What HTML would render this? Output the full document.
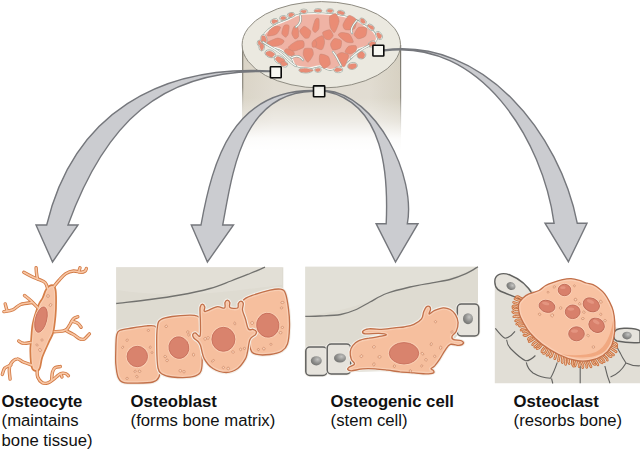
<!DOCTYPE html>
<html><head><meta charset="utf-8"><style>
html,body{margin:0;padding:0;background:#fff;width:640px;height:450px;overflow:hidden}
svg{display:block}
</style></head><body>
<svg width="640" height="450" viewBox="0 0 640 450">
<defs>
<linearGradient id="cylg" x1="0" y1="0" x2="0" y2="1">
<stop offset="0" stop-color="#d8d1c1"/>
<stop offset="0.45" stop-color="#dbd5c8"/>
<stop offset="0.75" stop-color="#efebe4"/>
<stop offset="1" stop-color="#ffffff"/>
</linearGradient>
<linearGradient id="cyledge" x1="0" y1="0" x2="0" y2="1">
<stop offset="0" stop-color="#77746b"/>
<stop offset="0.55" stop-color="#8f8c82"/>
<stop offset="1" stop-color="#ffffff" stop-opacity="0"/>
</linearGradient>
<radialGradient id="nucg" cx="0.62" cy="0.35" r="0.75"><stop offset="0" stop-color="#c4c4c2"/><stop offset="0.55" stop-color="#8e8e8c"/><stop offset="1" stop-color="#6c6c6a"/></radialGradient>
</defs>
<linearGradient id="cylh" x1="0" y1="0" x2="1" y2="0"><stop offset="0" stop-color="#d9d3c5"/><stop offset="0.2" stop-color="#e0dbd0"/><stop offset="0.8" stop-color="#e0dbd0"/><stop offset="1" stop-color="#d6d0c1"/></linearGradient>
<linearGradient id="fade" x1="0" y1="0" x2="0" y2="1"><stop offset="0" stop-color="#fff" stop-opacity="0"/><stop offset="0.5" stop-color="#fff" stop-opacity="0.04"/><stop offset="0.72" stop-color="#fff" stop-opacity="0.45"/><stop offset="0.88" stop-color="#fff" stop-opacity="0.92"/><stop offset="1" stop-color="#fff" stop-opacity="1"/></linearGradient>
<rect x="242" y="45" width="159" height="105" fill="url(#cylh)"/>
<rect x="240" y="45" width="163" height="106" fill="url(#fade)"/>
<rect x="242.1" y="45" width="1.2" height="77" fill="url(#cyledge)"/>
<rect x="400" y="45" width="1.2" height="95" fill="url(#cyledge)"/>
<ellipse cx="321.3" cy="44.8" rx="79.2" ry="43.2" fill="#ebe9e0" stroke="#8f8c82" stroke-width="1"/>
<path d="M263.1,37.5 C263.1,34.8 266.8,31.6 269.2,29.4 C271.6,27.2 274.2,25.8 277.3,24.3 C280.4,22.8 283.8,21.8 287.5,20.2 C291.2,18.6 294.9,15.7 299.7,14.6 C304.4,13.5 310.6,13.6 316.0,13.6 C321.4,13.6 327.5,14.1 332.2,14.6 C336.9,15.1 340.3,15.7 344.4,16.7 C348.5,17.7 353.2,19.2 356.6,20.7 C360.0,22.2 362.0,24.0 364.7,25.8 C367.4,27.6 370.9,29.1 372.8,31.4 C374.8,33.7 377.1,37.1 376.4,39.5 C375.7,41.9 371.9,44.0 368.8,45.6 C365.7,47.2 361.0,47.0 358.0,49.0 C355.0,51.0 353.8,55.0 351.0,57.8 C348.2,60.5 344.5,63.5 341.0,65.5 C337.5,67.5 333.7,69.4 330.2,69.5 C326.7,69.6 323.4,66.2 320.0,65.9 C316.6,65.6 313.8,67.6 309.8,67.5 C305.8,67.4 299.0,67.1 296.0,65.5 C293.0,63.9 294.0,60.4 291.6,57.8 C289.2,55.2 285.1,51.7 281.4,49.7 C277.7,47.7 272.2,47.6 269.2,45.6 C266.1,43.6 263.1,40.2 263.1,37.5Z" fill="none" stroke="#8d9d95" stroke-width="2.4"/>
<path d="M263.1,37.5 C263.1,34.8 266.8,31.6 269.2,29.4 C271.6,27.2 274.2,25.8 277.3,24.3 C280.4,22.8 283.8,21.8 287.5,20.2 C291.2,18.6 294.9,15.7 299.7,14.6 C304.4,13.5 310.6,13.6 316.0,13.6 C321.4,13.6 327.5,14.1 332.2,14.6 C336.9,15.1 340.3,15.7 344.4,16.7 C348.5,17.7 353.2,19.2 356.6,20.7 C360.0,22.2 362.0,24.0 364.7,25.8 C367.4,27.6 370.9,29.1 372.8,31.4 C374.8,33.7 377.1,37.1 376.4,39.5 C375.7,41.9 371.9,44.0 368.8,45.6 C365.7,47.2 361.0,47.0 358.0,49.0 C355.0,51.0 353.8,55.0 351.0,57.8 C348.2,60.5 344.5,63.5 341.0,65.5 C337.5,67.5 333.7,69.4 330.2,69.5 C326.7,69.6 323.4,66.2 320.0,65.9 C316.6,65.6 313.8,67.6 309.8,67.5 C305.8,67.4 299.0,67.1 296.0,65.5 C293.0,63.9 294.0,60.4 291.6,57.8 C289.2,55.2 285.1,51.7 281.4,49.7 C277.7,47.7 272.2,47.6 269.2,45.6 C266.1,43.6 263.1,40.2 263.1,37.5Z" fill="#efb3a5" stroke="#f8f8f3" stroke-width="1.2"/>
<ellipse cx="263.9" cy="39.5" rx="3.1" ry="5.1" transform="rotate(-10 263.9 39.5)" fill="#f8f8f3" stroke="#8d9d95" stroke-width="0.6"/>
<ellipse cx="261.7" cy="47.0" rx="2.9" ry="3.9" transform="rotate(0 261.7 47.0)" fill="#f8f8f3" stroke="#8d9d95" stroke-width="0.6"/>
<ellipse cx="270.2" cy="53.8" rx="5.4" ry="3.7" transform="rotate(20 270.2 53.8)" fill="#f8f8f3" stroke="#8d9d95" stroke-width="0.6"/>
<ellipse cx="279.4" cy="59.8" rx="5.4" ry="3.7" transform="rotate(25 279.4 59.8)" fill="#f8f8f3" stroke="#8d9d95" stroke-width="0.6"/>
<ellipse cx="284.0" cy="64.0" rx="3.9" ry="2.9" transform="rotate(20 284.0 64.0)" fill="#f8f8f3" stroke="#8d9d95" stroke-width="0.6"/>
<ellipse cx="274.3" cy="21.4" rx="3.9" ry="2.7" transform="rotate(-20 274.3 21.4)" fill="#f8f8f3" stroke="#8d9d95" stroke-width="0.6"/>
<ellipse cx="283.0" cy="18.0" rx="3.5" ry="2.5" transform="rotate(-10 283.0 18.0)" fill="#f8f8f3" stroke="#8d9d95" stroke-width="0.6"/>
<ellipse cx="291.0" cy="15.0" rx="3.9" ry="2.5" transform="rotate(-10 291.0 15.0)" fill="#f8f8f3" stroke="#8d9d95" stroke-width="0.6"/>
<ellipse cx="303.8" cy="11.3" rx="3.9" ry="2.3" transform="rotate(0 303.8 11.3)" fill="#f8f8f3" stroke="#8d9d95" stroke-width="0.6"/>
<ellipse cx="318.0" cy="10.8" rx="3.9" ry="2.3" transform="rotate(0 318.0 10.8)" fill="#f8f8f3" stroke="#8d9d95" stroke-width="0.6"/>
<ellipse cx="330.0" cy="11.0" rx="3.9" ry="2.3" transform="rotate(0 330.0 11.0)" fill="#f8f8f3" stroke="#8d9d95" stroke-width="0.6"/>
<ellipse cx="341.0" cy="12.8" rx="3.9" ry="2.5" transform="rotate(10 341.0 12.8)" fill="#f8f8f3" stroke="#8d9d95" stroke-width="0.6"/>
<ellipse cx="362.7" cy="21.3" rx="3.9" ry="2.7" transform="rotate(30 362.7 21.3)" fill="#f8f8f3" stroke="#8d9d95" stroke-width="0.6"/>
<ellipse cx="370.8" cy="27.3" rx="3.9" ry="2.7" transform="rotate(35 370.8 27.3)" fill="#f8f8f3" stroke="#8d9d95" stroke-width="0.6"/>
<ellipse cx="379.0" cy="35.5" rx="2.9" ry="4.4" transform="rotate(-30 379.0 35.5)" fill="#f8f8f3" stroke="#8d9d95" stroke-width="0.6"/>
<ellipse cx="372.0" cy="44.0" rx="3.9" ry="2.9" transform="rotate(-20 372.0 44.0)" fill="#f8f8f3" stroke="#8d9d95" stroke-width="0.6"/>
<ellipse cx="361.5" cy="55.0" rx="4.4" ry="3.9" transform="rotate(-20 361.5 55.0)" fill="#f8f8f3" stroke="#8d9d95" stroke-width="0.6"/>
<ellipse cx="352.5" cy="65.9" rx="4.9" ry="3.4" transform="rotate(-10 352.5 65.9)" fill="#f8f8f3" stroke="#8d9d95" stroke-width="0.6"/>
<ellipse cx="338.3" cy="69.8" rx="4.4" ry="2.9" transform="rotate(0 338.3 69.8)" fill="#f8f8f3" stroke="#8d9d95" stroke-width="0.6"/>
<ellipse cx="305.8" cy="70.3" rx="6.9" ry="2.7" transform="rotate(0 305.8 70.3)" fill="#f8f8f3" stroke="#8d9d95" stroke-width="0.6"/>
<ellipse cx="318.0" cy="70.0" rx="3.4" ry="2.4" transform="rotate(0 318.0 70.0)" fill="#f8f8f3" stroke="#8d9d95" stroke-width="0.6"/>
<ellipse cx="259.5" cy="43.0" rx="2.4" ry="2.9" transform="rotate(0 259.5 43.0)" fill="#f8f8f3" stroke="#8d9d95" stroke-width="0.6"/>
<path d="M261.5,41.3 C261.3,40.4 261.5,36.7 261.8,36.1 C262.2,35.5 264.2,35.6 264.7,36.1 C265.3,36.6 266.6,39.8 266.5,40.6 C266.5,41.5 264.8,43.4 264.2,43.5 C263.6,43.6 261.8,42.2 261.5,41.3Z" fill="#ea8c75" stroke="#c58676" stroke-width="0.5"/>
<path d="M261.5,50.6 C261.1,50.4 259.8,47.5 259.8,46.6 C259.8,45.8 261.2,43.4 261.7,43.2 C262.1,43.1 263.5,44.7 263.7,45.3 C263.9,45.9 263.7,47.6 263.4,48.2 C263.1,48.8 261.9,50.8 261.5,50.6Z" fill="#ea8c75" stroke="#c58676" stroke-width="0.5"/>
<path d="M265.9,52.5 C266.3,52.0 268.9,50.8 269.9,51.0 C271.0,51.2 274.5,53.3 274.7,54.0 C275.0,54.7 272.7,57.0 271.8,57.2 C270.9,57.3 267.5,55.8 266.8,55.3 C266.1,54.8 265.5,53.0 265.9,52.5Z" fill="#ea8c75" stroke="#c58676" stroke-width="0.5"/>
<path d="M278.1,56.6 C279.2,56.7 284.0,59.3 284.6,60.1 C285.1,60.9 283.3,63.0 282.6,63.3 C281.8,63.6 279.2,62.9 278.3,62.4 C277.5,61.9 275.4,59.6 275.3,59.0 C275.3,58.3 277.1,56.4 278.1,56.6Z" fill="#ea8c75" stroke="#c58676" stroke-width="0.5"/>
<path d="M285.0,61.8 C285.7,62.1 287.7,64.1 287.6,64.6 C287.5,65.1 284.9,65.9 284.2,66.0 C283.5,66.1 281.8,65.8 281.4,65.3 C281.1,64.8 280.7,62.3 281.1,61.9 C281.5,61.5 284.2,61.5 285.0,61.8Z" fill="#ea8c75" stroke="#c58676" stroke-width="0.5"/>
<path d="M272.9,23.6 C272.3,23.5 271.7,21.4 271.8,20.9 C271.9,20.5 273.1,19.6 273.8,19.6 C274.5,19.6 277.4,20.4 277.7,20.7 C278.0,21.1 276.9,22.0 276.4,22.3 C275.8,22.6 273.4,23.8 272.9,23.6Z" fill="#ea8c75" stroke="#c58676" stroke-width="0.5"/>
<path d="M286.0,18.2 C285.7,18.5 283.6,19.8 282.9,19.8 C282.3,19.9 280.5,18.9 280.5,18.5 C280.4,18.1 281.8,16.7 282.3,16.6 C282.8,16.4 284.6,16.6 285.0,16.8 C285.4,17.0 286.2,17.8 286.0,18.2Z" fill="#ea8c75" stroke="#c58676" stroke-width="0.5"/>
<path d="M288.8,16.4 C288.5,16.1 288.6,14.1 288.9,13.7 C289.3,13.3 291.2,12.9 291.8,13.0 C292.4,13.0 294.2,13.9 294.1,14.4 C294.1,14.8 291.8,16.6 291.2,16.8 C290.6,17.1 289.1,16.8 288.8,16.4Z" fill="#ea8c75" stroke="#c58676" stroke-width="0.5"/>
<path d="M305.6,12.4 C305.2,12.7 303.8,13.1 303.2,12.9 C302.6,12.8 300.8,11.8 300.7,11.4 C300.6,11.1 301.6,10.3 302.2,10.2 C302.9,10.1 306.0,10.3 306.4,10.5 C306.7,10.8 306.0,12.1 305.6,12.4Z" fill="#ea8c75" stroke="#c58676" stroke-width="0.5"/>
<path d="M315.2,10.0 C315.9,9.8 319.1,9.4 319.8,9.5 C320.6,9.6 321.7,10.6 321.7,10.9 C321.6,11.2 320.2,12.0 319.4,12.0 C318.6,12.1 315.1,11.7 314.6,11.4 C314.2,11.2 314.6,10.2 315.2,10.0Z" fill="#ea8c75" stroke="#c58676" stroke-width="0.5"/>
<path d="M330.7,12.6 C330.0,12.6 327.2,11.5 327.0,11.1 C326.8,10.7 328.1,9.5 328.7,9.4 C329.3,9.3 331.6,9.6 332.0,9.8 C332.5,10.0 333.0,10.8 332.8,11.1 C332.7,11.4 331.3,12.6 330.7,12.6Z" fill="#ea8c75" stroke="#c58676" stroke-width="0.5"/>
<path d="M344.3,12.7 C344.6,13.1 343.7,14.6 343.0,14.7 C342.4,14.8 339.3,13.9 338.7,13.6 C338.1,13.3 337.4,12.1 337.7,11.8 C337.9,11.5 340.0,11.0 340.7,11.1 C341.5,11.2 344.0,12.2 344.3,12.7Z" fill="#ea8c75" stroke="#c58676" stroke-width="0.5"/>
<path d="M360.8,18.9 C361.1,18.6 363.1,18.9 363.6,19.2 C364.1,19.6 365.2,21.5 365.3,22.0 C365.3,22.5 364.3,23.6 363.8,23.6 C363.3,23.7 361.2,22.7 360.8,22.1 C360.5,21.5 360.5,19.2 360.8,18.9Z" fill="#ea8c75" stroke="#c58676" stroke-width="0.5"/>
<path d="M368.4,27.1 C368.0,26.6 367.9,24.8 368.4,24.7 C368.9,24.6 372.4,26.0 373.0,26.5 C373.6,27.0 373.8,28.8 373.7,29.1 C373.5,29.4 372.2,29.7 371.6,29.4 C371.0,29.2 368.8,27.7 368.4,27.1Z" fill="#ea8c75" stroke="#c58676" stroke-width="0.5"/>
<path d="M381.6,35.6 C381.8,36.3 380.9,38.2 380.5,38.4 C380.1,38.7 378.6,38.4 378.1,37.9 C377.6,37.3 376.4,34.3 376.4,33.7 C376.5,33.1 378.2,32.5 378.8,32.7 C379.4,32.9 381.4,35.0 381.6,35.6Z" fill="#ea8c75" stroke="#c58676" stroke-width="0.5"/>
<path d="M368.5,44.2 C368.7,43.6 370.8,41.9 371.6,41.7 C372.4,41.5 374.9,42.0 375.3,42.4 C375.7,42.7 375.4,44.3 374.8,44.8 C374.2,45.3 370.7,46.5 370.0,46.5 C369.2,46.4 368.3,44.7 368.5,44.2Z" fill="#ea8c75" stroke="#c58676" stroke-width="0.5"/>
<path d="M358.2,57.5 C357.5,57.0 357.6,54.4 358.0,53.7 C358.4,53.0 360.9,51.5 361.7,51.6 C362.5,51.6 364.6,53.5 364.8,54.3 C365.0,55.1 364.1,58.0 363.3,58.3 C362.5,58.7 358.8,58.1 358.2,57.5Z" fill="#ea8c75" stroke="#c58676" stroke-width="0.5"/>
<path d="M355.6,63.8 C356.5,64.1 356.7,66.3 356.3,66.9 C356.0,67.5 353.2,68.9 352.3,69.0 C351.4,69.1 348.7,68.3 348.4,67.7 C348.0,67.2 348.3,64.8 349.2,64.3 C350.0,63.9 354.8,63.5 355.6,63.8Z" fill="#ea8c75" stroke="#c58676" stroke-width="0.5"/>
<path d="M334.4,70.4 C334.3,70.0 335.8,67.9 336.6,67.7 C337.4,67.5 340.8,68.5 341.4,68.8 C342.0,69.1 342.3,69.9 341.8,70.2 C341.3,70.6 338.1,71.7 337.3,71.7 C336.4,71.7 334.5,70.9 334.4,70.4Z" fill="#ea8c75" stroke="#c58676" stroke-width="0.5"/>
<path d="M307.6,72.3 C306.2,72.5 301.9,72.3 301.0,72.0 C300.0,71.7 298.7,70.0 299.3,69.6 C299.8,69.2 303.8,68.3 305.4,68.4 C307.1,68.4 313.0,69.8 313.2,70.3 C313.5,70.7 309.0,72.1 307.6,72.3Z" fill="#ea8c75" stroke="#c58676" stroke-width="0.5"/>
<path d="M319.9,68.8 C320.2,69.0 320.6,70.2 320.3,70.6 C320.0,70.9 318.0,71.9 317.4,71.8 C316.8,71.7 315.1,70.2 315.1,69.9 C315.1,69.5 317.0,68.6 317.6,68.5 C318.1,68.4 319.6,68.5 319.9,68.8Z" fill="#ea8c75" stroke="#c58676" stroke-width="0.5"/>
<path d="M260.3,44.8 C260.0,44.9 258.9,45.1 258.6,44.8 C258.4,44.5 258.0,42.4 258.1,41.9 C258.2,41.4 259.2,40.4 259.5,40.6 C259.9,40.7 261.0,42.7 261.1,43.2 C261.2,43.7 260.6,44.6 260.3,44.8Z" fill="#ea8c75" stroke="#c58676" stroke-width="0.5"/>
<path d="M280.6,27.2 C280.8,28.1 277.9,33.2 276.4,34.2 C274.9,35.2 268.4,36.4 267.7,35.9 C266.9,35.4 269.1,31.0 269.9,29.9 C270.7,28.8 273.5,26.8 274.8,26.5 C276.0,26.1 280.4,26.3 280.6,27.2Z" fill="#ea8c75" stroke="#c58676" stroke-width="0.5"/>
<path d="M288.2,34.1 C287.8,35.5 286.4,37.3 285.6,37.2 C284.9,37.1 282.0,34.8 281.8,33.5 C281.6,32.1 283.2,26.4 284.1,25.5 C284.9,24.5 288.6,24.6 289.0,25.6 C289.5,26.6 288.6,32.8 288.2,34.1Z" fill="#ea8c75" stroke="#c58676" stroke-width="0.5"/>
<path d="M294.1,26.5 C294.8,25.8 297.3,26.7 297.9,27.8 C298.4,29.0 298.9,35.1 298.6,36.4 C298.2,37.7 295.7,39.3 294.9,38.9 C294.2,38.6 291.9,34.9 291.8,33.5 C291.7,32.0 293.4,27.1 294.1,26.5Z" fill="#ea8c75" stroke="#c58676" stroke-width="0.5"/>
<path d="M299.7,31.2 C299.7,29.8 303.0,26.3 304.3,26.3 C305.5,26.3 310.1,29.8 310.7,31.1 C311.2,32.4 309.7,36.8 309.0,37.6 C308.3,38.4 305.6,38.7 304.6,37.9 C303.5,37.2 299.8,32.5 299.7,31.2Z" fill="#ea8c75" stroke="#c58676" stroke-width="0.5"/>
<path d="M315.5,19.3 C316.2,18.1 318.5,17.8 318.9,18.9 C319.3,20.0 319.3,26.9 318.9,28.5 C318.5,30.1 316.1,32.4 315.3,32.5 C314.6,32.6 312.5,30.8 312.5,29.3 C312.5,27.7 314.7,20.5 315.5,19.3Z" fill="#ea8c75" stroke="#c58676" stroke-width="0.5"/>
<path d="M335.8,13.8 C336.9,14.4 339.3,19.1 339.1,21.3 C339.0,23.5 335.7,31.8 334.6,32.5 C333.6,33.2 330.9,29.1 330.3,27.2 C329.7,25.4 329.0,18.3 329.6,16.7 C330.3,15.1 334.7,13.3 335.8,13.8Z" fill="#ea8c75" stroke="#c58676" stroke-width="0.5"/>
<path d="M356.2,19.5 C356.8,21.1 355.8,27.5 354.5,28.7 C353.3,29.8 346.7,30.2 345.4,29.7 C344.0,29.2 342.5,26.2 343.0,24.5 C343.4,22.9 347.4,16.1 348.9,15.5 C350.5,14.9 355.5,18.0 356.2,19.5Z" fill="#ea8c75" stroke="#c58676" stroke-width="0.5"/>
<path d="M281.4,44.6 C280.0,45.3 273.7,46.7 272.0,46.5 C270.2,46.3 265.9,44.0 266.6,43.0 C267.2,42.0 275.4,38.4 277.4,38.1 C279.5,37.8 283.5,39.9 284.0,40.7 C284.5,41.4 282.8,43.9 281.4,44.6Z" fill="#ea8c75" stroke="#c58676" stroke-width="0.5"/>
<path d="M303.4,41.0 C304.2,41.7 304.8,46.2 303.5,47.4 C302.3,48.6 294.7,51.3 292.9,51.2 C291.1,51.2 287.9,48.4 288.3,47.2 C288.7,46.0 294.6,41.9 296.4,41.2 C298.1,40.5 302.5,40.3 303.4,41.0Z" fill="#ea8c75" stroke="#c58676" stroke-width="0.5"/>
<path d="M315.1,47.0 C314.2,45.9 313.8,41.1 314.7,39.8 C315.5,38.5 321.2,35.5 322.4,35.7 C323.5,36.0 324.7,40.5 324.6,42.1 C324.6,43.7 323.2,49.1 322.0,49.6 C320.9,50.2 315.9,48.2 315.1,47.0Z" fill="#ea8c75" stroke="#c58676" stroke-width="0.5"/>
<path d="M322.7,32.3 C323.3,31.3 328.6,29.5 329.8,29.8 C331.1,30.2 333.2,34.5 333.2,35.6 C333.2,36.8 330.6,39.4 329.6,39.7 C328.6,40.0 325.5,39.3 324.7,38.4 C323.9,37.6 322.1,33.3 322.7,32.3Z" fill="#ea8c75" stroke="#c58676" stroke-width="0.5"/>
<path d="M338.3,35.2 C337.7,34.1 340.3,32.7 341.6,32.6 C342.9,32.5 348.1,33.0 349.4,34.1 C350.8,35.3 353.7,41.3 353.3,42.2 C353.0,43.1 348.0,42.8 346.2,42.0 C344.5,41.1 338.8,36.3 338.3,35.2Z" fill="#ea8c75" stroke="#c58676" stroke-width="0.5"/>
<path d="M365.6,35.9 C364.6,37.2 359.7,38.9 358.3,38.8 C357.0,38.6 354.1,35.9 354.1,34.6 C354.2,33.3 357.1,28.1 358.6,27.3 C360.0,26.6 365.7,27.1 366.5,28.1 C367.3,29.1 366.5,34.7 365.6,35.9Z" fill="#ea8c75" stroke="#c58676" stroke-width="0.5"/>
<path d="M334.4,38.6 C335.6,38.1 340.6,39.5 341.3,40.6 C342.0,41.7 341.4,46.8 340.4,47.9 C339.4,48.9 334.2,50.4 333.1,50.0 C331.9,49.5 330.4,45.5 330.5,44.2 C330.7,42.9 333.1,39.0 334.4,38.6Z" fill="#ea8c75" stroke="#c58676" stroke-width="0.5"/>
<path d="M345.0,51.8 C344.9,50.8 347.5,46.8 348.8,46.1 C350.1,45.4 355.1,45.2 356.0,45.8 C356.8,46.5 356.6,50.3 355.9,51.2 C355.1,52.2 351.0,54.1 349.7,54.1 C348.4,54.2 345.1,52.7 345.0,51.8Z" fill="#ea8c75" stroke="#c58676" stroke-width="0.5"/>
<path d="M311.9,48.8 C312.9,49.5 313.7,53.3 313.2,54.8 C312.7,56.4 309.1,62.2 307.9,62.2 C306.7,62.2 303.7,56.5 303.3,54.9 C302.9,53.3 303.6,49.3 304.6,48.6 C305.6,47.9 310.9,48.1 311.9,48.8Z" fill="#ea8c75" stroke="#c58676" stroke-width="0.5"/>
<path d="M289.3,55.6 C288.1,55.2 284.4,52.0 284.2,51.2 C283.9,50.4 285.9,48.7 286.9,48.7 C288.0,48.8 292.2,50.6 293.1,51.3 C294.0,51.9 294.7,53.9 294.3,54.4 C293.8,54.9 290.5,56.0 289.3,55.6Z" fill="#ea8c75" stroke="#c58676" stroke-width="0.5"/>
<path d="M328.3,56.6 C329.5,57.8 330.7,62.8 330.2,64.2 C329.7,65.5 325.2,68.5 324.0,68.3 C322.7,68.0 319.9,63.5 319.5,61.9 C319.1,60.3 319.2,54.9 320.2,54.2 C321.3,53.6 327.2,55.4 328.3,56.6Z" fill="#ea8c75" stroke="#c58676" stroke-width="0.5"/>
<path d="M336.1,56.4 C336.2,55.1 339.7,52.7 341.1,52.6 C342.6,52.4 348.1,53.6 348.6,55.2 C349.0,56.8 345.6,65.3 344.6,66.3 C343.6,67.4 341.1,65.6 340.2,64.4 C339.2,63.3 336.0,57.8 336.1,56.4Z" fill="#ea8c75" stroke="#c58676" stroke-width="0.5"/>
<path d="M316.6,42.7 C316.8,43.5 316.2,46.3 315.7,46.9 C315.2,47.4 312.9,47.5 312.5,47.0 C312.1,46.5 311.8,43.6 312.0,42.8 C312.2,41.9 313.8,39.8 314.4,39.8 C314.9,39.8 316.5,41.8 316.6,42.7Z" fill="#ea8c75" stroke="#c58676" stroke-width="0.5"/>
<path d="M263,42 C270,47 278,50 284,56 C288,60 292,64 296,66" fill="none" stroke="#8d9d95" stroke-width="2.2" stroke-linecap="round"/>
<path d="M263,42 C270,47 278,50 284,56 C288,60 292,64 296,66" fill="none" stroke="#f8f8f3" stroke-width="1.2" stroke-linecap="round"/>
<path d="M291.6,57.8 C296,55 300,56 303,60" fill="none" stroke="#8d9d95" stroke-width="2.2" stroke-linecap="round"/>
<path d="M291.6,57.8 C296,55 300,56 303,60" fill="none" stroke="#f8f8f3" stroke-width="1.2" stroke-linecap="round"/>
<path d="M351,57.8 C355,54 360,50 368.8,45.6" fill="none" stroke="#8d9d95" stroke-width="2.2" stroke-linecap="round"/>
<path d="M351,57.8 C355,54 360,50 368.8,45.6" fill="none" stroke="#f8f8f3" stroke-width="1.2" stroke-linecap="round"/>
<path d="M341,65.5 C338,60 336,55 333,52" fill="none" stroke="#8d9d95" stroke-width="2.2" stroke-linecap="round"/>
<path d="M341,65.5 C338,60 336,55 333,52" fill="none" stroke="#f8f8f3" stroke-width="1.2" stroke-linecap="round"/>
<path d="M300,14.6 C302,20 300,24 296,27" fill="none" stroke="#8d9d95" stroke-width="2.2" stroke-linecap="round"/>
<path d="M300,14.6 C302,20 300,24 296,27" fill="none" stroke="#f8f8f3" stroke-width="1.2" stroke-linecap="round"/>
<path d="M356.6,20.7 C352,26 350,30 352,33" fill="none" stroke="#8d9d95" stroke-width="2.2" stroke-linecap="round"/>
<path d="M356.6,20.7 C352,26 350,30 352,33" fill="none" stroke="#f8f8f3" stroke-width="1.2" stroke-linecap="round"/>
<path d="M270.0,71.0 C160.6,64.8 73.5,112.8 46.7,225.0 L36.0,225.0 L52.5,262.0 L78.0,225.0 L68.0,225.0 C104.3,125.5 159.2,67.8 270.0,71.6 Z" fill="#cbccd0" stroke="#75777c" stroke-width="1.4" stroke-linejoin="miter"/>
<path d="M313.0,90.5 C233.0,90.3 212.8,159.7 201.0,225.0 L191.3,225.0 L207.4,262.0 L233.5,225.0 L222.7,225.0 C232.6,171.8 242.0,92.8 313.0,91.2 Z" fill="#cbccd0" stroke="#75777c" stroke-width="1.4" stroke-linejoin="miter"/>
<path d="M325.5,90.5 C377.0,94.9 416.2,177.0 407.3,223.8 L418.0,223.6 L395.5,262.0 L376.1,223.6 L386.2,223.8 C388.3,175.8 384.8,103.3 325.5,91.2 Z" fill="#cbccd0" stroke="#75777c" stroke-width="1.4" stroke-linejoin="miter"/>
<path d="M384.0,50.0 C484.4,37.0 559.9,134.4 577.3,223.3 L587.0,223.2 L568.4,261.7 L545.0,223.2 L554.1,223.3 C542.9,140.3 480.8,38.1 384.0,50.8 Z" fill="#cbccd0" stroke="#75777c" stroke-width="1.4" stroke-linejoin="miter"/>
<rect x="270.4" y="66.8" width="10.8" height="11.0" rx="0.6" fill="#fbfbf8" fill-opacity="0.8" stroke="#0a0a0a" stroke-width="1.6"/>
<rect x="313.5" y="85.9" width="11.2" height="10.9" rx="0.6" fill="#fbfbf8" fill-opacity="0.8" stroke="#0a0a0a" stroke-width="1.6"/>
<rect x="372.9" y="45.2" width="10.9" height="10.8" rx="0.6" fill="#fbfbf8" fill-opacity="0.8" stroke="#0a0a0a" stroke-width="1.6"/>
<path d="M116.2,267.2 H283.3 V300 L245,312 L200,325 L158,334 L116.2,340 Z" fill="#dedbd1"/>
<path d="M116.2,267.2 H282.2 V285 C240,290 180,300 116.2,290 Z" fill="#e4e1d9" opacity="0.6"/>
<path d="M116.2,303.5 C121.8,302.8 139.4,300.9 150.0,299.5 C160.6,298.1 170.0,296.8 180.0,295.0 C190.0,293.2 201.5,290.8 210.0,288.5 C218.5,286.2 224.3,283.5 231.0,281.0 C237.7,278.5 244.3,275.8 250.0,273.5 C255.7,271.2 262.5,268.2 265.0,267.2" fill="none" stroke="#72726f" stroke-width="1.3"/>
<path d="M115.8,350.0 C115.9,345.3 115.9,339.2 116.5,336.0 C117.1,332.8 116.9,331.8 119.5,330.5 C122.1,329.2 127.4,328.8 132.0,328.0 C136.6,327.2 143.2,326.1 147.0,325.8 C150.8,325.5 152.8,325.3 154.5,326.0 C156.2,326.7 156.8,326.8 157.5,330.0 C158.2,333.2 158.1,339.0 158.5,345.0 C158.9,351.0 159.9,360.7 160.0,366.0 C160.1,371.3 160.2,374.3 159.0,377.0 C157.8,379.7 156.7,381.0 153.0,382.0 C149.3,383.0 142.0,383.1 137.0,383.2 C132.0,383.2 126.2,383.3 123.0,382.3 C119.8,381.3 119.2,380.1 118.0,377.0 C116.8,373.9 116.2,368.5 115.8,364.0 C115.4,359.5 115.7,354.7 115.8,350.0Z" fill="none" stroke="#f3f0ea" stroke-width="3.4" stroke-linejoin="round"/><path d="M115.8,350.0 C115.9,345.3 115.9,339.2 116.5,336.0 C117.1,332.8 116.9,331.8 119.5,330.5 C122.1,329.2 127.4,328.8 132.0,328.0 C136.6,327.2 143.2,326.1 147.0,325.8 C150.8,325.5 152.8,325.3 154.5,326.0 C156.2,326.7 156.8,326.8 157.5,330.0 C158.2,333.2 158.1,339.0 158.5,345.0 C158.9,351.0 159.9,360.7 160.0,366.0 C160.1,371.3 160.2,374.3 159.0,377.0 C157.8,379.7 156.7,381.0 153.0,382.0 C149.3,383.0 142.0,383.1 137.0,383.2 C132.0,383.2 126.2,383.3 123.0,382.3 C119.8,381.3 119.2,380.1 118.0,377.0 C116.8,373.9 116.2,368.5 115.8,364.0 C115.4,359.5 115.7,354.7 115.8,350.0Z" fill="#f6bf9e"/><clipPath id="cc1"><path d="M115.8,350.0 C115.9,345.3 115.9,339.2 116.5,336.0 C117.1,332.8 116.9,331.8 119.5,330.5 C122.1,329.2 127.4,328.8 132.0,328.0 C136.6,327.2 143.2,326.1 147.0,325.8 C150.8,325.5 152.8,325.3 154.5,326.0 C156.2,326.7 156.8,326.8 157.5,330.0 C158.2,333.2 158.1,339.0 158.5,345.0 C158.9,351.0 159.9,360.7 160.0,366.0 C160.1,371.3 160.2,374.3 159.0,377.0 C157.8,379.7 156.7,381.0 153.0,382.0 C149.3,383.0 142.0,383.1 137.0,383.2 C132.0,383.2 126.2,383.3 123.0,382.3 C119.8,381.3 119.2,380.1 118.0,377.0 C116.8,373.9 116.2,368.5 115.8,364.0 C115.4,359.5 115.7,354.7 115.8,350.0Z"/></clipPath><path d="M115.8,350.0 C115.9,345.3 115.9,339.2 116.5,336.0 C117.1,332.8 116.9,331.8 119.5,330.5 C122.1,329.2 127.4,328.8 132.0,328.0 C136.6,327.2 143.2,326.1 147.0,325.8 C150.8,325.5 152.8,325.3 154.5,326.0 C156.2,326.7 156.8,326.8 157.5,330.0 C158.2,333.2 158.1,339.0 158.5,345.0 C158.9,351.0 159.9,360.7 160.0,366.0 C160.1,371.3 160.2,374.3 159.0,377.0 C157.8,379.7 156.7,381.0 153.0,382.0 C149.3,383.0 142.0,383.1 137.0,383.2 C132.0,383.2 126.2,383.3 123.0,382.3 C119.8,381.3 119.2,380.1 118.0,377.0 C116.8,373.9 116.2,368.5 115.8,364.0 C115.4,359.5 115.7,354.7 115.8,350.0Z" fill="none" stroke="#f9d2b9" stroke-width="4" stroke-linejoin="round" clip-path="url(#cc1)" opacity="0.8"/><path d="M115.8,350.0 C115.9,345.3 115.9,339.2 116.5,336.0 C117.1,332.8 116.9,331.8 119.5,330.5 C122.1,329.2 127.4,328.8 132.0,328.0 C136.6,327.2 143.2,326.1 147.0,325.8 C150.8,325.5 152.8,325.3 154.5,326.0 C156.2,326.7 156.8,326.8 157.5,330.0 C158.2,333.2 158.1,339.0 158.5,345.0 C158.9,351.0 159.9,360.7 160.0,366.0 C160.1,371.3 160.2,374.3 159.0,377.0 C157.8,379.7 156.7,381.0 153.0,382.0 C149.3,383.0 142.0,383.1 137.0,383.2 C132.0,383.2 126.2,383.3 123.0,382.3 C119.8,381.3 119.2,380.1 118.0,377.0 C116.8,373.9 116.2,368.5 115.8,364.0 C115.4,359.5 115.7,354.7 115.8,350.0Z" fill="none" stroke="#c2704a" stroke-width="1.3" stroke-linejoin="round"/>
<path d="M156.7,347.0 C156.6,340.0 156.8,330.6 157.5,326.0 C158.2,321.4 158.6,321.1 161.0,319.5 C163.4,317.9 167.2,317.2 172.0,316.5 C176.8,315.8 185.5,315.2 189.7,315.1 C193.9,315.0 195.2,315.0 197.0,316.0 C198.8,317.0 199.7,315.8 200.5,321.0 C201.3,326.2 201.8,339.5 202.0,347.0 C202.2,354.5 202.4,361.6 202.0,366.0 C201.6,370.4 201.5,371.6 199.5,373.5 C197.5,375.4 194.6,376.6 190.0,377.2 C185.4,377.8 176.7,377.5 172.0,377.0 C167.3,376.5 164.3,375.5 162.0,374.0 C159.7,372.5 158.9,372.5 158.0,368.0 C157.1,363.5 156.8,354.0 156.7,347.0Z" fill="none" stroke="#f3f0ea" stroke-width="3.4" stroke-linejoin="round"/><path d="M156.7,347.0 C156.6,340.0 156.8,330.6 157.5,326.0 C158.2,321.4 158.6,321.1 161.0,319.5 C163.4,317.9 167.2,317.2 172.0,316.5 C176.8,315.8 185.5,315.2 189.7,315.1 C193.9,315.0 195.2,315.0 197.0,316.0 C198.8,317.0 199.7,315.8 200.5,321.0 C201.3,326.2 201.8,339.5 202.0,347.0 C202.2,354.5 202.4,361.6 202.0,366.0 C201.6,370.4 201.5,371.6 199.5,373.5 C197.5,375.4 194.6,376.6 190.0,377.2 C185.4,377.8 176.7,377.5 172.0,377.0 C167.3,376.5 164.3,375.5 162.0,374.0 C159.7,372.5 158.9,372.5 158.0,368.0 C157.1,363.5 156.8,354.0 156.7,347.0Z" fill="#f6bf9e"/><clipPath id="cc2"><path d="M156.7,347.0 C156.6,340.0 156.8,330.6 157.5,326.0 C158.2,321.4 158.6,321.1 161.0,319.5 C163.4,317.9 167.2,317.2 172.0,316.5 C176.8,315.8 185.5,315.2 189.7,315.1 C193.9,315.0 195.2,315.0 197.0,316.0 C198.8,317.0 199.7,315.8 200.5,321.0 C201.3,326.2 201.8,339.5 202.0,347.0 C202.2,354.5 202.4,361.6 202.0,366.0 C201.6,370.4 201.5,371.6 199.5,373.5 C197.5,375.4 194.6,376.6 190.0,377.2 C185.4,377.8 176.7,377.5 172.0,377.0 C167.3,376.5 164.3,375.5 162.0,374.0 C159.7,372.5 158.9,372.5 158.0,368.0 C157.1,363.5 156.8,354.0 156.7,347.0Z"/></clipPath><path d="M156.7,347.0 C156.6,340.0 156.8,330.6 157.5,326.0 C158.2,321.4 158.6,321.1 161.0,319.5 C163.4,317.9 167.2,317.2 172.0,316.5 C176.8,315.8 185.5,315.2 189.7,315.1 C193.9,315.0 195.2,315.0 197.0,316.0 C198.8,317.0 199.7,315.8 200.5,321.0 C201.3,326.2 201.8,339.5 202.0,347.0 C202.2,354.5 202.4,361.6 202.0,366.0 C201.6,370.4 201.5,371.6 199.5,373.5 C197.5,375.4 194.6,376.6 190.0,377.2 C185.4,377.8 176.7,377.5 172.0,377.0 C167.3,376.5 164.3,375.5 162.0,374.0 C159.7,372.5 158.9,372.5 158.0,368.0 C157.1,363.5 156.8,354.0 156.7,347.0Z" fill="none" stroke="#f9d2b9" stroke-width="4" stroke-linejoin="round" clip-path="url(#cc2)" opacity="0.8"/><path d="M156.7,347.0 C156.6,340.0 156.8,330.6 157.5,326.0 C158.2,321.4 158.6,321.1 161.0,319.5 C163.4,317.9 167.2,317.2 172.0,316.5 C176.8,315.8 185.5,315.2 189.7,315.1 C193.9,315.0 195.2,315.0 197.0,316.0 C198.8,317.0 199.7,315.8 200.5,321.0 C201.3,326.2 201.8,339.5 202.0,347.0 C202.2,354.5 202.4,361.6 202.0,366.0 C201.6,370.4 201.5,371.6 199.5,373.5 C197.5,375.4 194.6,376.6 190.0,377.2 C185.4,377.8 176.7,377.5 172.0,377.0 C167.3,376.5 164.3,375.5 162.0,374.0 C159.7,372.5 158.9,372.5 158.0,368.0 C157.1,363.5 156.8,354.0 156.7,347.0Z" fill="none" stroke="#c2704a" stroke-width="1.3" stroke-linejoin="round"/>
<path d="M242.4,308.0 C241.7,302.8 241.9,302.1 243.5,300.0 C245.1,297.9 247.8,297.0 252.2,295.4 C256.6,293.8 265.3,291.1 270.0,290.1 C274.7,289.1 278.0,288.6 280.6,289.2 C283.2,289.8 284.2,290.1 285.5,293.5 C286.8,296.9 287.9,304.0 288.6,309.6 C289.3,315.2 289.7,321.7 289.5,327.4 C289.3,333.1 288.8,340.1 287.5,344.0 C286.2,347.9 284.9,349.2 282.0,351.0 C279.1,352.8 274.4,354.0 270.0,354.5 C265.6,355.0 259.1,355.2 255.8,354.2 C252.5,353.2 251.7,352.6 250.4,348.7 C249.1,344.8 249.1,337.8 247.8,331.0 C246.5,324.2 243.1,313.2 242.4,308.0Z" fill="none" stroke="#f3f0ea" stroke-width="3.4" stroke-linejoin="round"/><path d="M242.4,308.0 C241.7,302.8 241.9,302.1 243.5,300.0 C245.1,297.9 247.8,297.0 252.2,295.4 C256.6,293.8 265.3,291.1 270.0,290.1 C274.7,289.1 278.0,288.6 280.6,289.2 C283.2,289.8 284.2,290.1 285.5,293.5 C286.8,296.9 287.9,304.0 288.6,309.6 C289.3,315.2 289.7,321.7 289.5,327.4 C289.3,333.1 288.8,340.1 287.5,344.0 C286.2,347.9 284.9,349.2 282.0,351.0 C279.1,352.8 274.4,354.0 270.0,354.5 C265.6,355.0 259.1,355.2 255.8,354.2 C252.5,353.2 251.7,352.6 250.4,348.7 C249.1,344.8 249.1,337.8 247.8,331.0 C246.5,324.2 243.1,313.2 242.4,308.0Z" fill="#f6bf9e"/><clipPath id="cc3"><path d="M242.4,308.0 C241.7,302.8 241.9,302.1 243.5,300.0 C245.1,297.9 247.8,297.0 252.2,295.4 C256.6,293.8 265.3,291.1 270.0,290.1 C274.7,289.1 278.0,288.6 280.6,289.2 C283.2,289.8 284.2,290.1 285.5,293.5 C286.8,296.9 287.9,304.0 288.6,309.6 C289.3,315.2 289.7,321.7 289.5,327.4 C289.3,333.1 288.8,340.1 287.5,344.0 C286.2,347.9 284.9,349.2 282.0,351.0 C279.1,352.8 274.4,354.0 270.0,354.5 C265.6,355.0 259.1,355.2 255.8,354.2 C252.5,353.2 251.7,352.6 250.4,348.7 C249.1,344.8 249.1,337.8 247.8,331.0 C246.5,324.2 243.1,313.2 242.4,308.0Z"/></clipPath><path d="M242.4,308.0 C241.7,302.8 241.9,302.1 243.5,300.0 C245.1,297.9 247.8,297.0 252.2,295.4 C256.6,293.8 265.3,291.1 270.0,290.1 C274.7,289.1 278.0,288.6 280.6,289.2 C283.2,289.8 284.2,290.1 285.5,293.5 C286.8,296.9 287.9,304.0 288.6,309.6 C289.3,315.2 289.7,321.7 289.5,327.4 C289.3,333.1 288.8,340.1 287.5,344.0 C286.2,347.9 284.9,349.2 282.0,351.0 C279.1,352.8 274.4,354.0 270.0,354.5 C265.6,355.0 259.1,355.2 255.8,354.2 C252.5,353.2 251.7,352.6 250.4,348.7 C249.1,344.8 249.1,337.8 247.8,331.0 C246.5,324.2 243.1,313.2 242.4,308.0Z" fill="none" stroke="#f9d2b9" stroke-width="4" stroke-linejoin="round" clip-path="url(#cc3)" opacity="0.8"/><path d="M242.4,308.0 C241.7,302.8 241.9,302.1 243.5,300.0 C245.1,297.9 247.8,297.0 252.2,295.4 C256.6,293.8 265.3,291.1 270.0,290.1 C274.7,289.1 278.0,288.6 280.6,289.2 C283.2,289.8 284.2,290.1 285.5,293.5 C286.8,296.9 287.9,304.0 288.6,309.6 C289.3,315.2 289.7,321.7 289.5,327.4 C289.3,333.1 288.8,340.1 287.5,344.0 C286.2,347.9 284.9,349.2 282.0,351.0 C279.1,352.8 274.4,354.0 270.0,354.5 C265.6,355.0 259.1,355.2 255.8,354.2 C252.5,353.2 251.7,352.6 250.4,348.7 C249.1,344.8 249.1,337.8 247.8,331.0 C246.5,324.2 243.1,313.2 242.4,308.0Z" fill="none" stroke="#c2704a" stroke-width="1.3" stroke-linejoin="round"/>
<path d="M200.4,322.6 C200.4,318.6 200.0,314.6 200.0,312.0 C200.0,309.4 199.8,308.3 200.2,307.0 C200.6,305.7 201.5,304.2 202.3,304.2 C203.1,304.2 204.4,305.8 204.8,307.0 C205.2,308.2 203.0,311.5 205.0,311.5 C207.0,311.5 213.4,307.4 216.7,306.8 C219.9,306.2 223.1,308.7 224.5,308.0 C225.9,307.3 224.5,303.8 225.0,302.5 C225.5,301.2 226.5,300.1 227.3,300.1 C228.1,300.1 229.4,301.3 229.8,302.5 C230.2,303.7 228.7,306.6 230.0,307.5 C231.3,308.4 236.1,308.7 237.5,308.0 C238.9,307.3 237.8,304.6 238.3,303.5 C238.9,302.4 240.0,301.1 240.8,301.1 C241.6,301.1 243.0,302.0 243.3,303.5 C243.6,305.0 242.2,307.4 242.5,310.0 C242.8,312.6 244.4,315.6 245.4,318.8 C246.4,322.0 247.2,327.2 248.5,329.0 C249.8,330.8 251.7,328.9 253.0,329.3 C254.3,329.7 255.9,330.6 256.3,331.5 C256.7,332.4 256.4,333.5 255.3,334.8 C254.2,336.1 251.3,336.6 250.0,339.5 C248.7,342.4 248.3,348.8 247.5,352.0 C246.7,355.2 247.0,356.1 245.4,358.9 C243.8,361.6 240.9,366.2 237.7,368.5 C234.5,370.8 230.3,372.5 226.2,372.5 C222.1,372.5 216.6,370.8 212.9,368.5 C209.2,366.2 206.4,362.7 204.3,358.9 C202.2,355.1 201.6,348.4 200.5,345.5 C199.4,342.6 199.1,342.8 198.0,341.5 C196.9,340.2 194.7,339.2 193.8,338.0 C192.9,336.8 192.5,335.3 192.8,334.5 C193.1,333.7 194.3,332.8 195.5,333.0 C196.7,333.2 199.2,337.7 200.0,336.0 C200.8,334.3 200.4,326.6 200.4,322.6Z" fill="none" stroke="#f3f0ea" stroke-width="3.4" stroke-linejoin="round"/><path d="M200.4,322.6 C200.4,318.6 200.0,314.6 200.0,312.0 C200.0,309.4 199.8,308.3 200.2,307.0 C200.6,305.7 201.5,304.2 202.3,304.2 C203.1,304.2 204.4,305.8 204.8,307.0 C205.2,308.2 203.0,311.5 205.0,311.5 C207.0,311.5 213.4,307.4 216.7,306.8 C219.9,306.2 223.1,308.7 224.5,308.0 C225.9,307.3 224.5,303.8 225.0,302.5 C225.5,301.2 226.5,300.1 227.3,300.1 C228.1,300.1 229.4,301.3 229.8,302.5 C230.2,303.7 228.7,306.6 230.0,307.5 C231.3,308.4 236.1,308.7 237.5,308.0 C238.9,307.3 237.8,304.6 238.3,303.5 C238.9,302.4 240.0,301.1 240.8,301.1 C241.6,301.1 243.0,302.0 243.3,303.5 C243.6,305.0 242.2,307.4 242.5,310.0 C242.8,312.6 244.4,315.6 245.4,318.8 C246.4,322.0 247.2,327.2 248.5,329.0 C249.8,330.8 251.7,328.9 253.0,329.3 C254.3,329.7 255.9,330.6 256.3,331.5 C256.7,332.4 256.4,333.5 255.3,334.8 C254.2,336.1 251.3,336.6 250.0,339.5 C248.7,342.4 248.3,348.8 247.5,352.0 C246.7,355.2 247.0,356.1 245.4,358.9 C243.8,361.6 240.9,366.2 237.7,368.5 C234.5,370.8 230.3,372.5 226.2,372.5 C222.1,372.5 216.6,370.8 212.9,368.5 C209.2,366.2 206.4,362.7 204.3,358.9 C202.2,355.1 201.6,348.4 200.5,345.5 C199.4,342.6 199.1,342.8 198.0,341.5 C196.9,340.2 194.7,339.2 193.8,338.0 C192.9,336.8 192.5,335.3 192.8,334.5 C193.1,333.7 194.3,332.8 195.5,333.0 C196.7,333.2 199.2,337.7 200.0,336.0 C200.8,334.3 200.4,326.6 200.4,322.6Z" fill="#f6bf9e"/><clipPath id="cc4"><path d="M200.4,322.6 C200.4,318.6 200.0,314.6 200.0,312.0 C200.0,309.4 199.8,308.3 200.2,307.0 C200.6,305.7 201.5,304.2 202.3,304.2 C203.1,304.2 204.4,305.8 204.8,307.0 C205.2,308.2 203.0,311.5 205.0,311.5 C207.0,311.5 213.4,307.4 216.7,306.8 C219.9,306.2 223.1,308.7 224.5,308.0 C225.9,307.3 224.5,303.8 225.0,302.5 C225.5,301.2 226.5,300.1 227.3,300.1 C228.1,300.1 229.4,301.3 229.8,302.5 C230.2,303.7 228.7,306.6 230.0,307.5 C231.3,308.4 236.1,308.7 237.5,308.0 C238.9,307.3 237.8,304.6 238.3,303.5 C238.9,302.4 240.0,301.1 240.8,301.1 C241.6,301.1 243.0,302.0 243.3,303.5 C243.6,305.0 242.2,307.4 242.5,310.0 C242.8,312.6 244.4,315.6 245.4,318.8 C246.4,322.0 247.2,327.2 248.5,329.0 C249.8,330.8 251.7,328.9 253.0,329.3 C254.3,329.7 255.9,330.6 256.3,331.5 C256.7,332.4 256.4,333.5 255.3,334.8 C254.2,336.1 251.3,336.6 250.0,339.5 C248.7,342.4 248.3,348.8 247.5,352.0 C246.7,355.2 247.0,356.1 245.4,358.9 C243.8,361.6 240.9,366.2 237.7,368.5 C234.5,370.8 230.3,372.5 226.2,372.5 C222.1,372.5 216.6,370.8 212.9,368.5 C209.2,366.2 206.4,362.7 204.3,358.9 C202.2,355.1 201.6,348.4 200.5,345.5 C199.4,342.6 199.1,342.8 198.0,341.5 C196.9,340.2 194.7,339.2 193.8,338.0 C192.9,336.8 192.5,335.3 192.8,334.5 C193.1,333.7 194.3,332.8 195.5,333.0 C196.7,333.2 199.2,337.7 200.0,336.0 C200.8,334.3 200.4,326.6 200.4,322.6Z"/></clipPath><path d="M200.4,322.6 C200.4,318.6 200.0,314.6 200.0,312.0 C200.0,309.4 199.8,308.3 200.2,307.0 C200.6,305.7 201.5,304.2 202.3,304.2 C203.1,304.2 204.4,305.8 204.8,307.0 C205.2,308.2 203.0,311.5 205.0,311.5 C207.0,311.5 213.4,307.4 216.7,306.8 C219.9,306.2 223.1,308.7 224.5,308.0 C225.9,307.3 224.5,303.8 225.0,302.5 C225.5,301.2 226.5,300.1 227.3,300.1 C228.1,300.1 229.4,301.3 229.8,302.5 C230.2,303.7 228.7,306.6 230.0,307.5 C231.3,308.4 236.1,308.7 237.5,308.0 C238.9,307.3 237.8,304.6 238.3,303.5 C238.9,302.4 240.0,301.1 240.8,301.1 C241.6,301.1 243.0,302.0 243.3,303.5 C243.6,305.0 242.2,307.4 242.5,310.0 C242.8,312.6 244.4,315.6 245.4,318.8 C246.4,322.0 247.2,327.2 248.5,329.0 C249.8,330.8 251.7,328.9 253.0,329.3 C254.3,329.7 255.9,330.6 256.3,331.5 C256.7,332.4 256.4,333.5 255.3,334.8 C254.2,336.1 251.3,336.6 250.0,339.5 C248.7,342.4 248.3,348.8 247.5,352.0 C246.7,355.2 247.0,356.1 245.4,358.9 C243.8,361.6 240.9,366.2 237.7,368.5 C234.5,370.8 230.3,372.5 226.2,372.5 C222.1,372.5 216.6,370.8 212.9,368.5 C209.2,366.2 206.4,362.7 204.3,358.9 C202.2,355.1 201.6,348.4 200.5,345.5 C199.4,342.6 199.1,342.8 198.0,341.5 C196.9,340.2 194.7,339.2 193.8,338.0 C192.9,336.8 192.5,335.3 192.8,334.5 C193.1,333.7 194.3,332.8 195.5,333.0 C196.7,333.2 199.2,337.7 200.0,336.0 C200.8,334.3 200.4,326.6 200.4,322.6Z" fill="none" stroke="#f9d2b9" stroke-width="4" stroke-linejoin="round" clip-path="url(#cc4)" opacity="0.8"/><path d="M200.4,322.6 C200.4,318.6 200.0,314.6 200.0,312.0 C200.0,309.4 199.8,308.3 200.2,307.0 C200.6,305.7 201.5,304.2 202.3,304.2 C203.1,304.2 204.4,305.8 204.8,307.0 C205.2,308.2 203.0,311.5 205.0,311.5 C207.0,311.5 213.4,307.4 216.7,306.8 C219.9,306.2 223.1,308.7 224.5,308.0 C225.9,307.3 224.5,303.8 225.0,302.5 C225.5,301.2 226.5,300.1 227.3,300.1 C228.1,300.1 229.4,301.3 229.8,302.5 C230.2,303.7 228.7,306.6 230.0,307.5 C231.3,308.4 236.1,308.7 237.5,308.0 C238.9,307.3 237.8,304.6 238.3,303.5 C238.9,302.4 240.0,301.1 240.8,301.1 C241.6,301.1 243.0,302.0 243.3,303.5 C243.6,305.0 242.2,307.4 242.5,310.0 C242.8,312.6 244.4,315.6 245.4,318.8 C246.4,322.0 247.2,327.2 248.5,329.0 C249.8,330.8 251.7,328.9 253.0,329.3 C254.3,329.7 255.9,330.6 256.3,331.5 C256.7,332.4 256.4,333.5 255.3,334.8 C254.2,336.1 251.3,336.6 250.0,339.5 C248.7,342.4 248.3,348.8 247.5,352.0 C246.7,355.2 247.0,356.1 245.4,358.9 C243.8,361.6 240.9,366.2 237.7,368.5 C234.5,370.8 230.3,372.5 226.2,372.5 C222.1,372.5 216.6,370.8 212.9,368.5 C209.2,366.2 206.4,362.7 204.3,358.9 C202.2,355.1 201.6,348.4 200.5,345.5 C199.4,342.6 199.1,342.8 198.0,341.5 C196.9,340.2 194.7,339.2 193.8,338.0 C192.9,336.8 192.5,335.3 192.8,334.5 C193.1,333.7 194.3,332.8 195.5,333.0 C196.7,333.2 199.2,337.7 200.0,336.0 C200.8,334.3 200.4,326.6 200.4,322.6Z" fill="none" stroke="#c2704a" stroke-width="1.3" stroke-linejoin="round"/>
<ellipse cx="137.3" cy="356.5" rx="11.5" ry="11.5" transform="rotate(0.0 137.3 356.5)" fill="#f9cfb4"/><ellipse cx="137.3" cy="356.5" rx="10.2" ry="10.2" transform="rotate(0.0 137.3 356.5)" fill="#d9836d" stroke="#c86f5b" stroke-width="0.9"/>
<ellipse cx="178.9" cy="347.6" rx="11.2" ry="12.1" transform="rotate(-12.0 178.9 347.6)" fill="#f9cfb4"/><ellipse cx="178.9" cy="347.6" rx="9.9" ry="10.8" transform="rotate(-12.0 178.9 347.6)" fill="#d9836d" stroke="#c86f5b" stroke-width="0.9"/>
<ellipse cx="223.4" cy="339.3" rx="12.8" ry="13.3" transform="rotate(0.0 223.4 339.3)" fill="#f9cfb4"/><ellipse cx="223.4" cy="339.3" rx="11.5" ry="12.0" transform="rotate(0.0 223.4 339.3)" fill="#d9836d" stroke="#c86f5b" stroke-width="0.9"/>
<ellipse cx="267.8" cy="325.2" rx="12.4" ry="13.3" transform="rotate(-8.0 267.8 325.2)" fill="#f9cfb4"/><ellipse cx="267.8" cy="325.2" rx="11.1" ry="12.0" transform="rotate(-8.0 267.8 325.2)" fill="#d9836d" stroke="#c86f5b" stroke-width="0.9"/>
<path d="M305.3,266.7 H478 V336 L457,336 L452,342 L440,356 L430,370 L349,372 L305.3,373 Z" fill="#dedbd1"/>
<path d="M305.3,266.7 H478 C460,275 440,282 410,287 C380,295 360,310 305.3,316 Z" fill="#e5e2da" opacity="0.6"/>
<path d="M305.3,316.4 C307.8,316.3 314.1,316.3 320.0,316.0 C325.9,315.7 334.9,315.5 340.7,314.5 C346.5,313.5 350.1,312.1 355.0,310.0 C359.9,307.9 364.8,304.8 370.0,302.0 C375.2,299.2 379.8,296.0 386.5,293.5 C393.2,291.0 402.4,288.8 410.0,287.0 C417.6,285.2 425.3,284.1 432.0,282.9 C438.7,281.6 444.3,281.0 450.0,279.5 C455.7,278.0 461.3,275.8 466.0,273.7 C470.7,271.6 476.0,267.9 478.0,266.7" fill="none" stroke="#72726f" stroke-width="1.3"/>
<rect x="305.8" y="347.0" width="21.2" height="28.5" rx="4.0" fill="none" stroke="#f3f0ea" stroke-width="3.2"/><rect x="305.8" y="347.0" width="21.2" height="28.5" rx="4.0" fill="#e6e3dc" stroke="#626260" stroke-width="1.5"/><ellipse cx="316.3" cy="360.8" rx="5.5" ry="4.6" fill="url(#nucg)"/>
<rect x="327.2" y="344.0" width="23.5" height="30.0" rx="4.0" fill="none" stroke="#f3f0ea" stroke-width="3.2"/><rect x="327.2" y="344.0" width="23.5" height="30.0" rx="4.0" fill="#e6e3dc" stroke="#626260" stroke-width="1.5"/><ellipse cx="340.0" cy="358.0" rx="6.0" ry="4.6" fill="url(#nucg)"/>
<rect x="457.3" y="304.0" width="21.5" height="32.0" rx="4.0" fill="none" stroke="#f3f0ea" stroke-width="3.2"/><rect x="457.3" y="304.0" width="21.5" height="32.0" rx="4.0" fill="#e6e3dc" stroke="#626260" stroke-width="1.5"/><ellipse cx="468.0" cy="318.7" rx="5.0" ry="5.5" fill="url(#nucg)"/>
<path d="M362.7,331.3 C363.3,330.5 365.8,329.1 368.9,328.8 C372.0,328.5 378.1,329.3 381.4,329.3 C384.7,329.3 386.3,328.9 388.8,328.6 C391.3,328.3 393.8,327.9 396.3,327.6 C398.8,327.3 400.9,327.6 403.8,327.0 C406.7,326.4 410.9,325.7 413.9,324.3 C416.8,322.9 419.9,320.9 421.5,318.8 C423.1,316.8 422.9,313.9 423.6,312.0 C424.4,310.1 425.1,308.1 426.0,307.2 C426.9,306.3 428.5,306.0 429.3,306.4 C430.1,306.8 430.6,308.0 430.6,309.3 C430.6,310.6 428.5,313.8 429.2,314.0 C429.9,314.2 432.3,311.4 434.7,310.4 C437.1,309.4 440.7,307.9 443.3,307.8 C445.9,307.7 448.3,308.4 450.3,309.5 C452.3,310.6 454.2,312.5 455.5,314.7 C456.8,316.9 458.0,319.8 458.1,322.5 C458.2,325.2 457.3,328.9 456.3,331.2 C455.3,333.5 452.4,335.0 452.0,336.4 C451.6,337.8 452.2,339.0 453.7,339.7 C455.1,340.4 459.0,339.9 460.7,340.5 C462.4,341.1 463.9,342.2 463.6,343.0 C463.3,343.8 461.2,345.2 459.0,345.4 C456.8,345.6 452.6,343.6 450.3,344.4 C448.0,345.2 446.8,347.9 445.1,350.3 C443.4,352.7 441.6,356.3 439.9,358.9 C438.2,361.5 436.2,364.2 434.7,365.9 C433.2,367.5 431.2,368.1 431.0,368.8 C430.8,369.5 432.8,369.6 433.2,370.3 C433.6,371.0 434.7,372.2 433.5,372.8 C432.3,373.4 429.3,373.8 426.0,373.8 C422.7,373.8 418.2,373.2 413.9,372.9 C409.6,372.6 404.4,372.3 400.0,371.9 C395.6,371.4 391.8,370.7 387.6,370.2 C383.5,369.7 379.2,369.1 375.1,368.9 C371.0,368.7 366.6,368.6 362.7,368.9 C358.8,369.2 354.0,370.7 351.5,370.8 C349.0,370.9 348.0,370.0 347.6,369.4 C347.2,368.8 347.9,368.1 349.0,367.2 C350.1,366.3 354.1,365.3 354.5,364.0 C354.9,362.7 352.0,361.4 351.3,359.4 C350.6,357.4 350.0,354.2 350.2,351.9 C350.4,349.6 351.2,347.6 352.7,345.7 C354.1,343.8 356.2,341.9 358.9,340.7 C361.6,339.4 365.1,338.9 368.9,338.2 C372.6,337.4 378.5,336.8 381.4,336.2 C384.3,335.6 386.7,335.1 386.3,334.6 C385.9,334.1 382.4,333.5 378.9,333.4 C375.4,333.3 367.9,334.2 365.2,333.9 C362.5,333.5 362.1,332.1 362.7,331.3Z" fill="none" stroke="#f3f0ea" stroke-width="3.4" stroke-linejoin="round"/><path d="M362.7,331.3 C363.3,330.5 365.8,329.1 368.9,328.8 C372.0,328.5 378.1,329.3 381.4,329.3 C384.7,329.3 386.3,328.9 388.8,328.6 C391.3,328.3 393.8,327.9 396.3,327.6 C398.8,327.3 400.9,327.6 403.8,327.0 C406.7,326.4 410.9,325.7 413.9,324.3 C416.8,322.9 419.9,320.9 421.5,318.8 C423.1,316.8 422.9,313.9 423.6,312.0 C424.4,310.1 425.1,308.1 426.0,307.2 C426.9,306.3 428.5,306.0 429.3,306.4 C430.1,306.8 430.6,308.0 430.6,309.3 C430.6,310.6 428.5,313.8 429.2,314.0 C429.9,314.2 432.3,311.4 434.7,310.4 C437.1,309.4 440.7,307.9 443.3,307.8 C445.9,307.7 448.3,308.4 450.3,309.5 C452.3,310.6 454.2,312.5 455.5,314.7 C456.8,316.9 458.0,319.8 458.1,322.5 C458.2,325.2 457.3,328.9 456.3,331.2 C455.3,333.5 452.4,335.0 452.0,336.4 C451.6,337.8 452.2,339.0 453.7,339.7 C455.1,340.4 459.0,339.9 460.7,340.5 C462.4,341.1 463.9,342.2 463.6,343.0 C463.3,343.8 461.2,345.2 459.0,345.4 C456.8,345.6 452.6,343.6 450.3,344.4 C448.0,345.2 446.8,347.9 445.1,350.3 C443.4,352.7 441.6,356.3 439.9,358.9 C438.2,361.5 436.2,364.2 434.7,365.9 C433.2,367.5 431.2,368.1 431.0,368.8 C430.8,369.5 432.8,369.6 433.2,370.3 C433.6,371.0 434.7,372.2 433.5,372.8 C432.3,373.4 429.3,373.8 426.0,373.8 C422.7,373.8 418.2,373.2 413.9,372.9 C409.6,372.6 404.4,372.3 400.0,371.9 C395.6,371.4 391.8,370.7 387.6,370.2 C383.5,369.7 379.2,369.1 375.1,368.9 C371.0,368.7 366.6,368.6 362.7,368.9 C358.8,369.2 354.0,370.7 351.5,370.8 C349.0,370.9 348.0,370.0 347.6,369.4 C347.2,368.8 347.9,368.1 349.0,367.2 C350.1,366.3 354.1,365.3 354.5,364.0 C354.9,362.7 352.0,361.4 351.3,359.4 C350.6,357.4 350.0,354.2 350.2,351.9 C350.4,349.6 351.2,347.6 352.7,345.7 C354.1,343.8 356.2,341.9 358.9,340.7 C361.6,339.4 365.1,338.9 368.9,338.2 C372.6,337.4 378.5,336.8 381.4,336.2 C384.3,335.6 386.7,335.1 386.3,334.6 C385.9,334.1 382.4,333.5 378.9,333.4 C375.4,333.3 367.9,334.2 365.2,333.9 C362.5,333.5 362.1,332.1 362.7,331.3Z" fill="#f6bf9e"/><clipPath id="cc5"><path d="M362.7,331.3 C363.3,330.5 365.8,329.1 368.9,328.8 C372.0,328.5 378.1,329.3 381.4,329.3 C384.7,329.3 386.3,328.9 388.8,328.6 C391.3,328.3 393.8,327.9 396.3,327.6 C398.8,327.3 400.9,327.6 403.8,327.0 C406.7,326.4 410.9,325.7 413.9,324.3 C416.8,322.9 419.9,320.9 421.5,318.8 C423.1,316.8 422.9,313.9 423.6,312.0 C424.4,310.1 425.1,308.1 426.0,307.2 C426.9,306.3 428.5,306.0 429.3,306.4 C430.1,306.8 430.6,308.0 430.6,309.3 C430.6,310.6 428.5,313.8 429.2,314.0 C429.9,314.2 432.3,311.4 434.7,310.4 C437.1,309.4 440.7,307.9 443.3,307.8 C445.9,307.7 448.3,308.4 450.3,309.5 C452.3,310.6 454.2,312.5 455.5,314.7 C456.8,316.9 458.0,319.8 458.1,322.5 C458.2,325.2 457.3,328.9 456.3,331.2 C455.3,333.5 452.4,335.0 452.0,336.4 C451.6,337.8 452.2,339.0 453.7,339.7 C455.1,340.4 459.0,339.9 460.7,340.5 C462.4,341.1 463.9,342.2 463.6,343.0 C463.3,343.8 461.2,345.2 459.0,345.4 C456.8,345.6 452.6,343.6 450.3,344.4 C448.0,345.2 446.8,347.9 445.1,350.3 C443.4,352.7 441.6,356.3 439.9,358.9 C438.2,361.5 436.2,364.2 434.7,365.9 C433.2,367.5 431.2,368.1 431.0,368.8 C430.8,369.5 432.8,369.6 433.2,370.3 C433.6,371.0 434.7,372.2 433.5,372.8 C432.3,373.4 429.3,373.8 426.0,373.8 C422.7,373.8 418.2,373.2 413.9,372.9 C409.6,372.6 404.4,372.3 400.0,371.9 C395.6,371.4 391.8,370.7 387.6,370.2 C383.5,369.7 379.2,369.1 375.1,368.9 C371.0,368.7 366.6,368.6 362.7,368.9 C358.8,369.2 354.0,370.7 351.5,370.8 C349.0,370.9 348.0,370.0 347.6,369.4 C347.2,368.8 347.9,368.1 349.0,367.2 C350.1,366.3 354.1,365.3 354.5,364.0 C354.9,362.7 352.0,361.4 351.3,359.4 C350.6,357.4 350.0,354.2 350.2,351.9 C350.4,349.6 351.2,347.6 352.7,345.7 C354.1,343.8 356.2,341.9 358.9,340.7 C361.6,339.4 365.1,338.9 368.9,338.2 C372.6,337.4 378.5,336.8 381.4,336.2 C384.3,335.6 386.7,335.1 386.3,334.6 C385.9,334.1 382.4,333.5 378.9,333.4 C375.4,333.3 367.9,334.2 365.2,333.9 C362.5,333.5 362.1,332.1 362.7,331.3Z"/></clipPath><path d="M362.7,331.3 C363.3,330.5 365.8,329.1 368.9,328.8 C372.0,328.5 378.1,329.3 381.4,329.3 C384.7,329.3 386.3,328.9 388.8,328.6 C391.3,328.3 393.8,327.9 396.3,327.6 C398.8,327.3 400.9,327.6 403.8,327.0 C406.7,326.4 410.9,325.7 413.9,324.3 C416.8,322.9 419.9,320.9 421.5,318.8 C423.1,316.8 422.9,313.9 423.6,312.0 C424.4,310.1 425.1,308.1 426.0,307.2 C426.9,306.3 428.5,306.0 429.3,306.4 C430.1,306.8 430.6,308.0 430.6,309.3 C430.6,310.6 428.5,313.8 429.2,314.0 C429.9,314.2 432.3,311.4 434.7,310.4 C437.1,309.4 440.7,307.9 443.3,307.8 C445.9,307.7 448.3,308.4 450.3,309.5 C452.3,310.6 454.2,312.5 455.5,314.7 C456.8,316.9 458.0,319.8 458.1,322.5 C458.2,325.2 457.3,328.9 456.3,331.2 C455.3,333.5 452.4,335.0 452.0,336.4 C451.6,337.8 452.2,339.0 453.7,339.7 C455.1,340.4 459.0,339.9 460.7,340.5 C462.4,341.1 463.9,342.2 463.6,343.0 C463.3,343.8 461.2,345.2 459.0,345.4 C456.8,345.6 452.6,343.6 450.3,344.4 C448.0,345.2 446.8,347.9 445.1,350.3 C443.4,352.7 441.6,356.3 439.9,358.9 C438.2,361.5 436.2,364.2 434.7,365.9 C433.2,367.5 431.2,368.1 431.0,368.8 C430.8,369.5 432.8,369.6 433.2,370.3 C433.6,371.0 434.7,372.2 433.5,372.8 C432.3,373.4 429.3,373.8 426.0,373.8 C422.7,373.8 418.2,373.2 413.9,372.9 C409.6,372.6 404.4,372.3 400.0,371.9 C395.6,371.4 391.8,370.7 387.6,370.2 C383.5,369.7 379.2,369.1 375.1,368.9 C371.0,368.7 366.6,368.6 362.7,368.9 C358.8,369.2 354.0,370.7 351.5,370.8 C349.0,370.9 348.0,370.0 347.6,369.4 C347.2,368.8 347.9,368.1 349.0,367.2 C350.1,366.3 354.1,365.3 354.5,364.0 C354.9,362.7 352.0,361.4 351.3,359.4 C350.6,357.4 350.0,354.2 350.2,351.9 C350.4,349.6 351.2,347.6 352.7,345.7 C354.1,343.8 356.2,341.9 358.9,340.7 C361.6,339.4 365.1,338.9 368.9,338.2 C372.6,337.4 378.5,336.8 381.4,336.2 C384.3,335.6 386.7,335.1 386.3,334.6 C385.9,334.1 382.4,333.5 378.9,333.4 C375.4,333.3 367.9,334.2 365.2,333.9 C362.5,333.5 362.1,332.1 362.7,331.3Z" fill="none" stroke="#f9d2b9" stroke-width="4" stroke-linejoin="round" clip-path="url(#cc5)" opacity="0.8"/><path d="M362.7,331.3 C363.3,330.5 365.8,329.1 368.9,328.8 C372.0,328.5 378.1,329.3 381.4,329.3 C384.7,329.3 386.3,328.9 388.8,328.6 C391.3,328.3 393.8,327.9 396.3,327.6 C398.8,327.3 400.9,327.6 403.8,327.0 C406.7,326.4 410.9,325.7 413.9,324.3 C416.8,322.9 419.9,320.9 421.5,318.8 C423.1,316.8 422.9,313.9 423.6,312.0 C424.4,310.1 425.1,308.1 426.0,307.2 C426.9,306.3 428.5,306.0 429.3,306.4 C430.1,306.8 430.6,308.0 430.6,309.3 C430.6,310.6 428.5,313.8 429.2,314.0 C429.9,314.2 432.3,311.4 434.7,310.4 C437.1,309.4 440.7,307.9 443.3,307.8 C445.9,307.7 448.3,308.4 450.3,309.5 C452.3,310.6 454.2,312.5 455.5,314.7 C456.8,316.9 458.0,319.8 458.1,322.5 C458.2,325.2 457.3,328.9 456.3,331.2 C455.3,333.5 452.4,335.0 452.0,336.4 C451.6,337.8 452.2,339.0 453.7,339.7 C455.1,340.4 459.0,339.9 460.7,340.5 C462.4,341.1 463.9,342.2 463.6,343.0 C463.3,343.8 461.2,345.2 459.0,345.4 C456.8,345.6 452.6,343.6 450.3,344.4 C448.0,345.2 446.8,347.9 445.1,350.3 C443.4,352.7 441.6,356.3 439.9,358.9 C438.2,361.5 436.2,364.2 434.7,365.9 C433.2,367.5 431.2,368.1 431.0,368.8 C430.8,369.5 432.8,369.6 433.2,370.3 C433.6,371.0 434.7,372.2 433.5,372.8 C432.3,373.4 429.3,373.8 426.0,373.8 C422.7,373.8 418.2,373.2 413.9,372.9 C409.6,372.6 404.4,372.3 400.0,371.9 C395.6,371.4 391.8,370.7 387.6,370.2 C383.5,369.7 379.2,369.1 375.1,368.9 C371.0,368.7 366.6,368.6 362.7,368.9 C358.8,369.2 354.0,370.7 351.5,370.8 C349.0,370.9 348.0,370.0 347.6,369.4 C347.2,368.8 347.9,368.1 349.0,367.2 C350.1,366.3 354.1,365.3 354.5,364.0 C354.9,362.7 352.0,361.4 351.3,359.4 C350.6,357.4 350.0,354.2 350.2,351.9 C350.4,349.6 351.2,347.6 352.7,345.7 C354.1,343.8 356.2,341.9 358.9,340.7 C361.6,339.4 365.1,338.9 368.9,338.2 C372.6,337.4 378.5,336.8 381.4,336.2 C384.3,335.6 386.7,335.1 386.3,334.6 C385.9,334.1 382.4,333.5 378.9,333.4 C375.4,333.3 367.9,334.2 365.2,333.9 C362.5,333.5 362.1,332.1 362.7,331.3Z" fill="none" stroke="#c2704a" stroke-width="1.3" stroke-linejoin="round"/>
<ellipse cx="404.0" cy="353.3" rx="16.0" ry="12.0" transform="rotate(0.0 404.0 353.3)" fill="#f9cfb4"/><ellipse cx="404.0" cy="353.3" rx="14.7" ry="10.7" transform="rotate(0.0 404.0 353.3)" fill="#d9836d" stroke="#c86f5b" stroke-width="0.9"/>
<path d="M494.8,283 C496,275 505,273 515,279 C525,285 535,292 545,300 L600,320 C612,330 620,327 640,330 V383.3 H494.8 Z" fill="#e1ded6"/>
<path d="M494.8,282 C494.5,274 502,272 510,275 C520,279 528,286 533,295 C535,300 532,303 528,302 C520,299 512,296 505,293 C499,291 495,289 494.8,282 Z" fill="#e6e3dc" stroke="#626260" stroke-width="1.4"/>
<ellipse cx="511" cy="286" rx="4.6" ry="3.8" transform="rotate(25 511 286)" fill="url(#nucg)"/>
<path d="M613.5,336 C613,330 618,328.5 624,328.3 C632,328 638,329 640,331 V342.5 C632,343 622,342 617,341 C614.5,340 613.8,338 613.5,336 Z" fill="#e6e3dc" stroke="#626260" stroke-width="1.4"/>
<ellipse cx="627" cy="335.6" rx="4.7" ry="3.9" fill="url(#nucg)"/>
<path d="M495.3,328.3 C499,333 502,337 505.1,338.2 C509,338 512,335 515,331.3" fill="none" stroke="#626260" stroke-width="1.1"/>
<path d="M506.6,339.7 C507,343 508,346 511,349 C515,353 520,358 525.6,360.8 C529,361 532,359 535.4,355.5" fill="none" stroke="#626260" stroke-width="1.1"/>
<path d="M526.3,362.4 C527,366 529,370 533,373 C538,376 545,378 550.5,378.2 C553,374 555,369 557.3,362.4" fill="none" stroke="#626260" stroke-width="1.1"/>
<path d="M551.5,378.5 L552.8,383.5" fill="none" stroke="#626260" stroke-width="1.1"/>
<path d="M580.2,366 L580.2,383.3" fill="none" stroke="#626260" stroke-width="1.1"/>
<path d="M604.9,366 C606,371 607,376 610,383.3" fill="none" stroke="#626260" stroke-width="1.1"/>
<path d="M616,343.3 C617,347 618,350 620.3,353.1 C622,357 624,360 626,363 C630,365 635,366 640,365.8" fill="none" stroke="#626260" stroke-width="1.1"/>
<path d="M626,363 C622,370 616,375 610.5,377" fill="none" stroke="#626260" stroke-width="1.1"/>
<path d="M520.6,304.6 C517.0,303.3 515.1,303.1 513.6,302.4" fill="none" stroke="#c9713f" stroke-width="2.7" stroke-linecap="round"/>
<path d="M522.1,301.6 C518.5,299.9 516.4,299.9 515.0,298.8" fill="none" stroke="#c9713f" stroke-width="2.7" stroke-linecap="round"/>
<path d="M524.2,299.4 C519.7,299.2 519.0,295.5 516.3,297.0" fill="none" stroke="#c9713f" stroke-width="2.7" stroke-linecap="round"/>
<path d="M611.1,341.0 C613.8,343.8 616.5,342.5 616.8,344.8" fill="none" stroke="#c9713f" stroke-width="2.7" stroke-linecap="round"/>
<path d="M610.1,344.1 C613.9,345.3 614.5,347.9 616.7,347.4" fill="none" stroke="#c9713f" stroke-width="2.7" stroke-linecap="round"/>
<path d="M608.7,346.8 C612.4,349.2 614.3,350.8 616.1,351.8" fill="none" stroke="#c9713f" stroke-width="2.7" stroke-linecap="round"/>
<path d="M606.7,349.5 C610.1,352.1 611.8,353.7 613.5,354.9" fill="none" stroke="#c9713f" stroke-width="2.7" stroke-linecap="round"/>
<path d="M604.5,351.8 C608.5,353.6 608.4,356.9 611.1,356.7" fill="none" stroke="#c9713f" stroke-width="2.7" stroke-linecap="round"/>
<path d="M602.1,353.7 C604.1,357.6 607.5,357.3 607.3,360.1" fill="none" stroke="#c9713f" stroke-width="2.7" stroke-linecap="round"/>
<path d="M599.4,355.4 C601.4,359.0 604.1,359.4 604.2,361.7" fill="none" stroke="#c9713f" stroke-width="2.7" stroke-linecap="round"/>
<path d="M596.3,356.7 C600.1,359.1 598.9,362.8 602.1,362.8" fill="none" stroke="#c9713f" stroke-width="2.7" stroke-linecap="round"/>
<path d="M593.4,357.7 C595.4,361.5 597.2,363.0 597.9,364.9" fill="none" stroke="#c9713f" stroke-width="2.7" stroke-linecap="round"/>
<path d="M590.4,358.5 C593.8,361.0 591.8,364.4 595.0,364.4" fill="none" stroke="#c9713f" stroke-width="2.7" stroke-linecap="round"/>
<path d="M587.1,359.0 C589.1,362.9 590.0,365.1 591.0,366.8" fill="none" stroke="#c9713f" stroke-width="2.7" stroke-linecap="round"/>
<path d="M584.2,359.3 C584.6,363.7 587.9,364.7 586.7,367.3" fill="none" stroke="#c9713f" stroke-width="2.7" stroke-linecap="round"/>
<path d="M580.9,359.3 C580.8,363.8 584.4,364.9 582.7,367.5" fill="none" stroke="#c9713f" stroke-width="2.7" stroke-linecap="round"/>
<path d="M577.8,358.9 C577.8,363.1 580.4,364.4 579.1,366.5" fill="none" stroke="#c9713f" stroke-width="2.7" stroke-linecap="round"/>
<path d="M574.4,358.3 C573.6,362.5 577.1,363.9 574.9,366.1" fill="none" stroke="#c9713f" stroke-width="2.7" stroke-linecap="round"/>
<path d="M571.6,357.5 C573.6,361.7 571.0,364.4 573.5,366.1" fill="none" stroke="#c9713f" stroke-width="2.7" stroke-linecap="round"/>
<path d="M568.3,356.5 C569.5,360.2 567.5,362.1 569.2,363.5" fill="none" stroke="#c9713f" stroke-width="2.7" stroke-linecap="round"/>
<path d="M565.8,355.5 C565.8,359.9 565.3,362.4 565.6,364.4" fill="none" stroke="#c9713f" stroke-width="2.7" stroke-linecap="round"/>
<path d="M562.8,354.3 C563.0,358.5 561.3,360.5 562.3,362.5" fill="none" stroke="#c9713f" stroke-width="2.7" stroke-linecap="round"/>
<path d="M559.9,353.0 C559.5,357.0 558.2,358.9 558.5,360.8" fill="none" stroke="#c9713f" stroke-width="2.7" stroke-linecap="round"/>
<path d="M557.0,351.5 C555.6,355.2 555.6,357.2 554.7,358.7" fill="none" stroke="#c9713f" stroke-width="2.7" stroke-linecap="round"/>
<path d="M554.1,349.8 C551.2,353.1 553.1,356.2 550.2,357.0" fill="none" stroke="#c9713f" stroke-width="2.7" stroke-linecap="round"/>
<path d="M551.6,348.3 C548.3,351.3 550.0,354.7 547.0,355.3" fill="none" stroke="#c9713f" stroke-width="2.7" stroke-linecap="round"/>
<path d="M549.1,346.7 C545.3,349.4 547.1,353.3 543.6,353.5" fill="none" stroke="#c9713f" stroke-width="2.7" stroke-linecap="round"/>
<path d="M546.4,344.8 C544.8,348.9 541.5,349.1 541.9,351.8" fill="none" stroke="#c9713f" stroke-width="2.7" stroke-linecap="round"/>
<path d="M543.8,343.0 C539.6,345.0 540.5,349.0 537.1,348.7" fill="none" stroke="#c9713f" stroke-width="2.7" stroke-linecap="round"/>
<path d="M541.4,341.2 C538.0,344.0 536.6,345.9 534.8,347.0" fill="none" stroke="#c9713f" stroke-width="2.7" stroke-linecap="round"/>
<path d="M538.9,339.1 C536.2,342.5 533.1,342.2 532.6,344.7" fill="none" stroke="#c9713f" stroke-width="2.7" stroke-linecap="round"/>
<path d="M536.6,337.1 C532.8,339.1 531.1,340.8 529.2,341.5" fill="none" stroke="#c9713f" stroke-width="2.7" stroke-linecap="round"/>
<path d="M534.5,335.0 C531.7,338.2 528.6,336.3 528.3,339.3" fill="none" stroke="#c9713f" stroke-width="2.7" stroke-linecap="round"/>
<path d="M532.3,332.7 C527.6,332.8 526.8,337.0 523.9,335.2" fill="none" stroke="#c9713f" stroke-width="2.7" stroke-linecap="round"/>
<path d="M530.2,330.3 C526.3,330.4 525.4,333.1 523.4,331.9" fill="none" stroke="#c9713f" stroke-width="2.7" stroke-linecap="round"/>
<path d="M528.4,327.6 C524.8,329.8 522.2,327.9 521.1,330.2" fill="none" stroke="#c9713f" stroke-width="2.7" stroke-linecap="round"/>
<path d="M526.8,325.0 C522.8,324.8 521.2,327.0 519.4,325.8" fill="none" stroke="#c9713f" stroke-width="2.7" stroke-linecap="round"/>
<path d="M525.2,322.3 C521.1,324.4 518.4,321.4 516.7,324.2" fill="none" stroke="#c9713f" stroke-width="2.7" stroke-linecap="round"/>
<path d="M523.7,319.6 C519.6,321.4 517.3,318.2 515.6,320.9" fill="none" stroke="#c9713f" stroke-width="2.7" stroke-linecap="round"/>
<path d="M522.2,316.6 C518.0,317.1 515.8,315.8 513.8,316.7" fill="none" stroke="#c9713f" stroke-width="2.7" stroke-linecap="round"/>
<path d="M521.3,313.8 C517.1,311.6 514.5,314.9 512.7,311.9" fill="none" stroke="#c9713f" stroke-width="2.7" stroke-linecap="round"/>
<path d="M520.7,310.4 C517.0,308.0 514.3,311.2 513.0,308.1" fill="none" stroke="#c9713f" stroke-width="2.7" stroke-linecap="round"/>
<path d="M520.4,307.3 C516.3,307.9 515.1,304.5 512.9,306.5" fill="none" stroke="#c9713f" stroke-width="2.7" stroke-linecap="round"/>
<path d="M520.6,304.6 C517.0,303.3 515.1,303.1 513.6,302.4" fill="none" stroke="#f6c2a0" stroke-width="1.0" stroke-linecap="round"/>
<path d="M522.1,301.6 C518.5,299.9 516.4,299.9 515.0,298.8" fill="none" stroke="#f6c2a0" stroke-width="1.0" stroke-linecap="round"/>
<path d="M524.2,299.4 C519.7,299.2 519.0,295.5 516.3,297.0" fill="none" stroke="#f6c2a0" stroke-width="1.0" stroke-linecap="round"/>
<path d="M611.1,341.0 C613.8,343.8 616.5,342.5 616.8,344.8" fill="none" stroke="#f6c2a0" stroke-width="1.0" stroke-linecap="round"/>
<path d="M610.1,344.1 C613.9,345.3 614.5,347.9 616.7,347.4" fill="none" stroke="#f6c2a0" stroke-width="1.0" stroke-linecap="round"/>
<path d="M608.7,346.8 C612.4,349.2 614.3,350.8 616.1,351.8" fill="none" stroke="#f6c2a0" stroke-width="1.0" stroke-linecap="round"/>
<path d="M606.7,349.5 C610.1,352.1 611.8,353.7 613.5,354.9" fill="none" stroke="#f6c2a0" stroke-width="1.0" stroke-linecap="round"/>
<path d="M604.5,351.8 C608.5,353.6 608.4,356.9 611.1,356.7" fill="none" stroke="#f6c2a0" stroke-width="1.0" stroke-linecap="round"/>
<path d="M602.1,353.7 C604.1,357.6 607.5,357.3 607.3,360.1" fill="none" stroke="#f6c2a0" stroke-width="1.0" stroke-linecap="round"/>
<path d="M599.4,355.4 C601.4,359.0 604.1,359.4 604.2,361.7" fill="none" stroke="#f6c2a0" stroke-width="1.0" stroke-linecap="round"/>
<path d="M596.3,356.7 C600.1,359.1 598.9,362.8 602.1,362.8" fill="none" stroke="#f6c2a0" stroke-width="1.0" stroke-linecap="round"/>
<path d="M593.4,357.7 C595.4,361.5 597.2,363.0 597.9,364.9" fill="none" stroke="#f6c2a0" stroke-width="1.0" stroke-linecap="round"/>
<path d="M590.4,358.5 C593.8,361.0 591.8,364.4 595.0,364.4" fill="none" stroke="#f6c2a0" stroke-width="1.0" stroke-linecap="round"/>
<path d="M587.1,359.0 C589.1,362.9 590.0,365.1 591.0,366.8" fill="none" stroke="#f6c2a0" stroke-width="1.0" stroke-linecap="round"/>
<path d="M584.2,359.3 C584.6,363.7 587.9,364.7 586.7,367.3" fill="none" stroke="#f6c2a0" stroke-width="1.0" stroke-linecap="round"/>
<path d="M580.9,359.3 C580.8,363.8 584.4,364.9 582.7,367.5" fill="none" stroke="#f6c2a0" stroke-width="1.0" stroke-linecap="round"/>
<path d="M577.8,358.9 C577.8,363.1 580.4,364.4 579.1,366.5" fill="none" stroke="#f6c2a0" stroke-width="1.0" stroke-linecap="round"/>
<path d="M574.4,358.3 C573.6,362.5 577.1,363.9 574.9,366.1" fill="none" stroke="#f6c2a0" stroke-width="1.0" stroke-linecap="round"/>
<path d="M571.6,357.5 C573.6,361.7 571.0,364.4 573.5,366.1" fill="none" stroke="#f6c2a0" stroke-width="1.0" stroke-linecap="round"/>
<path d="M568.3,356.5 C569.5,360.2 567.5,362.1 569.2,363.5" fill="none" stroke="#f6c2a0" stroke-width="1.0" stroke-linecap="round"/>
<path d="M565.8,355.5 C565.8,359.9 565.3,362.4 565.6,364.4" fill="none" stroke="#f6c2a0" stroke-width="1.0" stroke-linecap="round"/>
<path d="M562.8,354.3 C563.0,358.5 561.3,360.5 562.3,362.5" fill="none" stroke="#f6c2a0" stroke-width="1.0" stroke-linecap="round"/>
<path d="M559.9,353.0 C559.5,357.0 558.2,358.9 558.5,360.8" fill="none" stroke="#f6c2a0" stroke-width="1.0" stroke-linecap="round"/>
<path d="M557.0,351.5 C555.6,355.2 555.6,357.2 554.7,358.7" fill="none" stroke="#f6c2a0" stroke-width="1.0" stroke-linecap="round"/>
<path d="M554.1,349.8 C551.2,353.1 553.1,356.2 550.2,357.0" fill="none" stroke="#f6c2a0" stroke-width="1.0" stroke-linecap="round"/>
<path d="M551.6,348.3 C548.3,351.3 550.0,354.7 547.0,355.3" fill="none" stroke="#f6c2a0" stroke-width="1.0" stroke-linecap="round"/>
<path d="M549.1,346.7 C545.3,349.4 547.1,353.3 543.6,353.5" fill="none" stroke="#f6c2a0" stroke-width="1.0" stroke-linecap="round"/>
<path d="M546.4,344.8 C544.8,348.9 541.5,349.1 541.9,351.8" fill="none" stroke="#f6c2a0" stroke-width="1.0" stroke-linecap="round"/>
<path d="M543.8,343.0 C539.6,345.0 540.5,349.0 537.1,348.7" fill="none" stroke="#f6c2a0" stroke-width="1.0" stroke-linecap="round"/>
<path d="M541.4,341.2 C538.0,344.0 536.6,345.9 534.8,347.0" fill="none" stroke="#f6c2a0" stroke-width="1.0" stroke-linecap="round"/>
<path d="M538.9,339.1 C536.2,342.5 533.1,342.2 532.6,344.7" fill="none" stroke="#f6c2a0" stroke-width="1.0" stroke-linecap="round"/>
<path d="M536.6,337.1 C532.8,339.1 531.1,340.8 529.2,341.5" fill="none" stroke="#f6c2a0" stroke-width="1.0" stroke-linecap="round"/>
<path d="M534.5,335.0 C531.7,338.2 528.6,336.3 528.3,339.3" fill="none" stroke="#f6c2a0" stroke-width="1.0" stroke-linecap="round"/>
<path d="M532.3,332.7 C527.6,332.8 526.8,337.0 523.9,335.2" fill="none" stroke="#f6c2a0" stroke-width="1.0" stroke-linecap="round"/>
<path d="M530.2,330.3 C526.3,330.4 525.4,333.1 523.4,331.9" fill="none" stroke="#f6c2a0" stroke-width="1.0" stroke-linecap="round"/>
<path d="M528.4,327.6 C524.8,329.8 522.2,327.9 521.1,330.2" fill="none" stroke="#f6c2a0" stroke-width="1.0" stroke-linecap="round"/>
<path d="M526.8,325.0 C522.8,324.8 521.2,327.0 519.4,325.8" fill="none" stroke="#f6c2a0" stroke-width="1.0" stroke-linecap="round"/>
<path d="M525.2,322.3 C521.1,324.4 518.4,321.4 516.7,324.2" fill="none" stroke="#f6c2a0" stroke-width="1.0" stroke-linecap="round"/>
<path d="M523.7,319.6 C519.6,321.4 517.3,318.2 515.6,320.9" fill="none" stroke="#f6c2a0" stroke-width="1.0" stroke-linecap="round"/>
<path d="M522.2,316.6 C518.0,317.1 515.8,315.8 513.8,316.7" fill="none" stroke="#f6c2a0" stroke-width="1.0" stroke-linecap="round"/>
<path d="M521.3,313.8 C517.1,311.6 514.5,314.9 512.7,311.9" fill="none" stroke="#f6c2a0" stroke-width="1.0" stroke-linecap="round"/>
<path d="M520.7,310.4 C517.0,308.0 514.3,311.2 513.0,308.1" fill="none" stroke="#f6c2a0" stroke-width="1.0" stroke-linecap="round"/>
<path d="M520.4,307.3 C516.3,307.9 515.1,304.5 512.9,306.5" fill="none" stroke="#f6c2a0" stroke-width="1.0" stroke-linecap="round"/>
<path d="M518.7,304.0 C519.3,301.3 521.3,299.7 523.0,298.0 C524.7,296.3 526.2,295.1 528.9,293.9 C531.6,292.6 536.2,291.9 539.0,290.5 C541.8,289.1 543.2,286.9 545.7,285.5 C548.2,284.1 551.4,283.1 554.2,282.1 C557.0,281.1 559.8,280.2 562.6,279.6 C565.4,279.0 568.2,278.6 571.0,278.7 C573.8,278.8 577.0,279.7 579.5,280.4 C582.0,281.1 584.0,282.3 586.2,283.0 C588.5,283.7 590.8,283.6 593.0,284.6 C595.2,285.6 597.8,287.3 599.7,288.9 C601.7,290.4 603.0,291.6 604.7,293.9 C606.4,296.1 608.4,299.6 609.8,302.4 C611.2,305.2 612.4,307.5 613.2,310.8 C614.0,314.1 614.6,318.3 614.8,322.0 C615.0,325.7 615.1,329.0 614.5,333.0 C613.9,337.0 613.3,342.2 611.4,346.0 C609.5,349.8 606.6,353.1 603.0,355.5 C599.4,357.9 594.5,359.7 590.0,360.5 C585.5,361.3 581.2,361.5 576.0,360.5 C570.8,359.5 564.3,357.3 558.6,354.5 C552.9,351.7 546.5,347.5 541.7,343.9 C536.9,340.3 533.0,336.5 530.0,333.0 C527.0,329.5 525.2,326.1 523.5,323.0 C521.8,319.9 520.3,317.5 519.5,314.3 C518.7,311.1 518.1,306.7 518.7,304.0Z" fill="#f8c2a2"/><clipPath id="cc6"><path d="M518.7,304.0 C519.3,301.3 521.3,299.7 523.0,298.0 C524.7,296.3 526.2,295.1 528.9,293.9 C531.6,292.6 536.2,291.9 539.0,290.5 C541.8,289.1 543.2,286.9 545.7,285.5 C548.2,284.1 551.4,283.1 554.2,282.1 C557.0,281.1 559.8,280.2 562.6,279.6 C565.4,279.0 568.2,278.6 571.0,278.7 C573.8,278.8 577.0,279.7 579.5,280.4 C582.0,281.1 584.0,282.3 586.2,283.0 C588.5,283.7 590.8,283.6 593.0,284.6 C595.2,285.6 597.8,287.3 599.7,288.9 C601.7,290.4 603.0,291.6 604.7,293.9 C606.4,296.1 608.4,299.6 609.8,302.4 C611.2,305.2 612.4,307.5 613.2,310.8 C614.0,314.1 614.6,318.3 614.8,322.0 C615.0,325.7 615.1,329.0 614.5,333.0 C613.9,337.0 613.3,342.2 611.4,346.0 C609.5,349.8 606.6,353.1 603.0,355.5 C599.4,357.9 594.5,359.7 590.0,360.5 C585.5,361.3 581.2,361.5 576.0,360.5 C570.8,359.5 564.3,357.3 558.6,354.5 C552.9,351.7 546.5,347.5 541.7,343.9 C536.9,340.3 533.0,336.5 530.0,333.0 C527.0,329.5 525.2,326.1 523.5,323.0 C521.8,319.9 520.3,317.5 519.5,314.3 C518.7,311.1 518.1,306.7 518.7,304.0Z"/></clipPath><path d="M518.7,304.0 C519.3,301.3 521.3,299.7 523.0,298.0 C524.7,296.3 526.2,295.1 528.9,293.9 C531.6,292.6 536.2,291.9 539.0,290.5 C541.8,289.1 543.2,286.9 545.7,285.5 C548.2,284.1 551.4,283.1 554.2,282.1 C557.0,281.1 559.8,280.2 562.6,279.6 C565.4,279.0 568.2,278.6 571.0,278.7 C573.8,278.8 577.0,279.7 579.5,280.4 C582.0,281.1 584.0,282.3 586.2,283.0 C588.5,283.7 590.8,283.6 593.0,284.6 C595.2,285.6 597.8,287.3 599.7,288.9 C601.7,290.4 603.0,291.6 604.7,293.9 C606.4,296.1 608.4,299.6 609.8,302.4 C611.2,305.2 612.4,307.5 613.2,310.8 C614.0,314.1 614.6,318.3 614.8,322.0 C615.0,325.7 615.1,329.0 614.5,333.0 C613.9,337.0 613.3,342.2 611.4,346.0 C609.5,349.8 606.6,353.1 603.0,355.5 C599.4,357.9 594.5,359.7 590.0,360.5 C585.5,361.3 581.2,361.5 576.0,360.5 C570.8,359.5 564.3,357.3 558.6,354.5 C552.9,351.7 546.5,347.5 541.7,343.9 C536.9,340.3 533.0,336.5 530.0,333.0 C527.0,329.5 525.2,326.1 523.5,323.0 C521.8,319.9 520.3,317.5 519.5,314.3 C518.7,311.1 518.1,306.7 518.7,304.0Z" fill="none" stroke="#fbd3bc" stroke-width="4" stroke-linejoin="round" clip-path="url(#cc6)" opacity="0.8"/><path d="M518.7,304.0 C519.3,301.3 521.3,299.7 523.0,298.0 C524.7,296.3 526.2,295.1 528.9,293.9 C531.6,292.6 536.2,291.9 539.0,290.5 C541.8,289.1 543.2,286.9 545.7,285.5 C548.2,284.1 551.4,283.1 554.2,282.1 C557.0,281.1 559.8,280.2 562.6,279.6 C565.4,279.0 568.2,278.6 571.0,278.7 C573.8,278.8 577.0,279.7 579.5,280.4 C582.0,281.1 584.0,282.3 586.2,283.0 C588.5,283.7 590.8,283.6 593.0,284.6 C595.2,285.6 597.8,287.3 599.7,288.9 C601.7,290.4 603.0,291.6 604.7,293.9 C606.4,296.1 608.4,299.6 609.8,302.4 C611.2,305.2 612.4,307.5 613.2,310.8 C614.0,314.1 614.6,318.3 614.8,322.0 C615.0,325.7 615.1,329.0 614.5,333.0 C613.9,337.0 613.3,342.2 611.4,346.0 C609.5,349.8 606.6,353.1 603.0,355.5 C599.4,357.9 594.5,359.7 590.0,360.5 C585.5,361.3 581.2,361.5 576.0,360.5 C570.8,359.5 564.3,357.3 558.6,354.5 C552.9,351.7 546.5,347.5 541.7,343.9 C536.9,340.3 533.0,336.5 530.0,333.0 C527.0,329.5 525.2,326.1 523.5,323.0 C521.8,319.9 520.3,317.5 519.5,314.3 C518.7,311.1 518.1,306.7 518.7,304.0Z" fill="none" stroke="#c2704a" stroke-width="1.3" stroke-linejoin="round"/>
<path d="M560,354 C580,360 598,358 606,350 C612,343 614,333 613.5,318 C611,335 606,347 596,352 C585,356 572,356 560,354 Z" fill="#f0a57c" opacity="0.9"/>
<ellipse cx="564.5" cy="290.0" rx="7.5" ry="6.9" transform="rotate(0.0 564.5 290.0)" fill="#fad0b8"/><ellipse cx="564.5" cy="290.0" rx="6.3" ry="5.7" transform="rotate(0.0 564.5 290.0)" fill="#d8806b" stroke="#bf6a55" stroke-width="0.9"/><ellipse cx="562.9" cy="287.7" rx="2.8" ry="1.4" transform="rotate(0.0 564.5 290.0)" fill="#e79a86" opacity="0.8"/>
<ellipse cx="547.0" cy="306.3" rx="9.2" ry="7.1" transform="rotate(15.0 547.0 306.3)" fill="#fad0b8"/><ellipse cx="547.0" cy="306.3" rx="8.0" ry="5.9" transform="rotate(15.0 547.0 306.3)" fill="#d8806b" stroke="#bf6a55" stroke-width="0.9"/><ellipse cx="545.0" cy="303.9" rx="3.6" ry="1.5" transform="rotate(15.0 547.0 306.3)" fill="#e79a86" opacity="0.8"/>
<ellipse cx="591.3" cy="304.8" rx="9.6" ry="7.8" transform="rotate(25.0 591.3 304.8)" fill="#fad0b8"/><ellipse cx="591.3" cy="304.8" rx="8.4" ry="6.6" transform="rotate(25.0 591.3 304.8)" fill="#d8806b" stroke="#bf6a55" stroke-width="0.9"/><ellipse cx="589.2" cy="302.2" rx="3.8" ry="1.6" transform="rotate(25.0 591.3 304.8)" fill="#e79a86" opacity="0.8"/>
<ellipse cx="572.7" cy="311.8" rx="8.6" ry="8.0" transform="rotate(0.0 572.7 311.8)" fill="#fad0b8"/><ellipse cx="572.7" cy="311.8" rx="7.4" ry="6.8" transform="rotate(0.0 572.7 311.8)" fill="#d8806b" stroke="#bf6a55" stroke-width="0.9"/><ellipse cx="570.9" cy="309.1" rx="3.3" ry="1.7" transform="rotate(0.0 572.7 311.8)" fill="#e79a86" opacity="0.8"/>
<ellipse cx="596.6" cy="325.3" rx="9.2" ry="8.0" transform="rotate(30.0 596.6 325.3)" fill="#fad0b8"/><ellipse cx="596.6" cy="325.3" rx="8.0" ry="6.8" transform="rotate(30.0 596.6 325.3)" fill="#d8806b" stroke="#bf6a55" stroke-width="0.9"/><ellipse cx="594.6" cy="322.6" rx="3.6" ry="1.7" transform="rotate(30.0 596.6 325.3)" fill="#e79a86" opacity="0.8"/>
<ellipse cx="576.5" cy="333.8" rx="9.0" ry="8.2" transform="rotate(0.0 576.5 333.8)" fill="#fad0b8"/><ellipse cx="576.5" cy="333.8" rx="7.8" ry="7.0" transform="rotate(0.0 576.5 333.8)" fill="#d8806b" stroke="#bf6a55" stroke-width="0.9"/><ellipse cx="574.5" cy="331.0" rx="3.5" ry="1.8" transform="rotate(0.0 576.5 333.8)" fill="#e79a86" opacity="0.8"/>
<path d="M47.7,288.5 C47.3,287.5 46.6,284.1 45.1,282.6 C43.6,281.1 40.9,280.4 38.7,279.4 C36.6,278.4 34.7,278.0 32.2,276.8 C29.7,275.6 25.2,273.1 23.8,272.3" fill="none" stroke="#d27a45" stroke-width="3.4" stroke-linecap="round" stroke-linejoin="round"/>
<path d="M37.4,278.8 C37.2,277.8 36.7,274.8 36.5,273.0 C36.3,271.2 36.2,268.7 36.1,267.8" fill="none" stroke="#d27a45" stroke-width="3.4" stroke-linecap="round" stroke-linejoin="round"/>
<path d="M53.5,287.0 C54.5,285.8 57.2,282.2 59.3,280.0 C61.3,277.8 63.4,275.1 65.8,273.6 C68.2,272.1 70.9,271.2 73.5,271.0 C76.1,270.8 79.3,272.3 81.2,272.3 C83.1,272.3 84.2,271.6 85.1,271.0 C86.0,270.4 86.2,268.8 86.4,268.4" fill="none" stroke="#d27a45" stroke-width="3.4" stroke-linecap="round" stroke-linejoin="round"/>
<path d="M78.7,271.7 C78.9,271.1 79.8,268.4 80.0,267.8" fill="none" stroke="#d27a45" stroke-width="3.4" stroke-linecap="round" stroke-linejoin="round"/>
<path d="M38.0,308.0 C36.8,306.8 33.1,302.8 30.9,300.7 C28.6,298.6 25.6,296.4 24.5,295.5" fill="none" stroke="#d27a45" stroke-width="3.4" stroke-linecap="round" stroke-linejoin="round"/>
<path d="M32.2,302.5 C30.3,302.8 23.8,303.3 20.6,304.5 C17.4,305.7 15.7,308.5 12.9,309.7 C10.1,310.9 5.4,311.3 3.9,311.6" fill="none" stroke="#d27a45" stroke-width="3.4" stroke-linecap="round" stroke-linejoin="round"/>
<path d="M7.0,310.5 C6.7,309.4 5.5,305.0 5.2,303.9" fill="none" stroke="#d27a45" stroke-width="3.4" stroke-linecap="round" stroke-linejoin="round"/>
<path d="M54.4,331.7 C55.7,331.6 60.2,331.5 62.2,331.1 C64.2,330.7 65.4,330.5 66.7,329.4 C68.0,328.3 68.9,326.1 70.0,324.4 C71.1,322.6 72.0,320.2 73.3,318.9 C74.6,317.6 77.0,317.1 77.8,316.7" fill="none" stroke="#d27a45" stroke-width="3.4" stroke-linecap="round" stroke-linejoin="round"/>
<path d="M72.2,321.1 C73.1,321.5 76.3,322.3 77.8,323.3 C79.3,324.3 80.5,326.6 81.1,327.2" fill="none" stroke="#d27a45" stroke-width="3.4" stroke-linecap="round" stroke-linejoin="round"/>
<path d="M66.7,331.0 C67.8,331.6 71.1,333.1 73.3,334.4 C75.5,335.7 78.2,338.1 80.0,338.9 C81.8,339.6 82.8,339.7 84.4,338.9 C86.0,338.1 88.6,334.7 89.4,333.9" fill="none" stroke="#d27a45" stroke-width="3.4" stroke-linecap="round" stroke-linejoin="round"/>
<path d="M31.0,342.5 C29.7,342.6 25.4,343.6 23.3,343.3 C21.2,343.1 19.5,341.4 18.7,341.0" fill="none" stroke="#d27a45" stroke-width="3.4" stroke-linecap="round" stroke-linejoin="round"/>
<path d="M31.9,365.1 C30.5,364.6 25.8,363.0 23.3,362.0 C20.8,361.0 19.2,358.6 17.1,358.9 C15.0,359.1 12.2,361.7 10.9,363.5 C9.6,365.3 9.4,367.2 9.3,369.8 C9.2,372.4 10.0,377.6 10.1,379.1" fill="none" stroke="#d27a45" stroke-width="3.4" stroke-linecap="round" stroke-linejoin="round"/>
<path d="M10.9,365.0 C9.9,365.5 6.1,366.6 4.7,368.2 C3.3,369.8 2.7,373.4 2.3,374.4" fill="none" stroke="#d27a45" stroke-width="3.4" stroke-linecap="round" stroke-linejoin="round"/>
<path d="M37.1,369.5 C37.2,370.8 36.8,374.8 37.7,377.0 C38.6,379.2 40.6,381.8 42.3,382.8 C44.0,383.8 46.4,383.3 48.1,382.8 C49.8,382.3 51.4,380.9 52.7,379.9 C54.1,378.9 54.9,378.1 56.2,377.0 C57.6,375.9 59.2,374.1 60.8,373.5 C62.3,372.9 64.2,373.1 65.5,373.5 C66.8,373.9 67.9,375.4 68.4,375.8" fill="none" stroke="#d27a45" stroke-width="3.4" stroke-linecap="round" stroke-linejoin="round"/>
<path d="M51.6,380.0 C51.8,378.7 51.9,374.1 52.5,372.0 C53.1,369.9 53.8,368.6 55.1,367.7 C56.4,366.8 59.4,366.8 60.3,366.6" fill="none" stroke="#d27a45" stroke-width="3.4" stroke-linecap="round" stroke-linejoin="round"/>
<path d="M60.8,374.0 C61.0,374.5 61.8,376.5 62.0,377.0" fill="none" stroke="#d27a45" stroke-width="3.4" stroke-linecap="round" stroke-linejoin="round"/>
<path d="M52.2,285.2 C53.7,285.3 54.9,286.9 55.5,289.5 C56.1,292.1 56.1,296.3 56.1,300.7 C56.1,305.1 56.0,310.8 55.5,316.0 C55.0,321.2 54.3,328.0 53.3,332.2 C52.3,336.4 51.1,337.0 49.3,341.2 C47.5,345.4 43.8,352.9 42.3,357.3 C40.8,361.7 40.9,365.4 40.0,367.7 C39.1,370.0 38.4,371.0 37.0,371.0 C35.6,371.0 33.0,371.0 31.9,367.7 C30.8,364.4 30.4,355.7 30.3,351.1 C30.2,346.5 30.7,344.6 31.1,340.0 C31.5,335.4 31.6,329.1 32.8,323.3 C34.0,317.5 36.9,309.2 38.5,305.0 C40.1,300.8 41.3,300.7 42.6,298.0 C43.9,295.3 44.8,291.1 46.4,289.0 C48.0,286.9 50.7,285.1 52.2,285.2Z" fill="#f6c3a4"/><clipPath id="cc7"><path d="M52.2,285.2 C53.7,285.3 54.9,286.9 55.5,289.5 C56.1,292.1 56.1,296.3 56.1,300.7 C56.1,305.1 56.0,310.8 55.5,316.0 C55.0,321.2 54.3,328.0 53.3,332.2 C52.3,336.4 51.1,337.0 49.3,341.2 C47.5,345.4 43.8,352.9 42.3,357.3 C40.8,361.7 40.9,365.4 40.0,367.7 C39.1,370.0 38.4,371.0 37.0,371.0 C35.6,371.0 33.0,371.0 31.9,367.7 C30.8,364.4 30.4,355.7 30.3,351.1 C30.2,346.5 30.7,344.6 31.1,340.0 C31.5,335.4 31.6,329.1 32.8,323.3 C34.0,317.5 36.9,309.2 38.5,305.0 C40.1,300.8 41.3,300.7 42.6,298.0 C43.9,295.3 44.8,291.1 46.4,289.0 C48.0,286.9 50.7,285.1 52.2,285.2Z"/></clipPath><path d="M52.2,285.2 C53.7,285.3 54.9,286.9 55.5,289.5 C56.1,292.1 56.1,296.3 56.1,300.7 C56.1,305.1 56.0,310.8 55.5,316.0 C55.0,321.2 54.3,328.0 53.3,332.2 C52.3,336.4 51.1,337.0 49.3,341.2 C47.5,345.4 43.8,352.9 42.3,357.3 C40.8,361.7 40.9,365.4 40.0,367.7 C39.1,370.0 38.4,371.0 37.0,371.0 C35.6,371.0 33.0,371.0 31.9,367.7 C30.8,364.4 30.4,355.7 30.3,351.1 C30.2,346.5 30.7,344.6 31.1,340.0 C31.5,335.4 31.6,329.1 32.8,323.3 C34.0,317.5 36.9,309.2 38.5,305.0 C40.1,300.8 41.3,300.7 42.6,298.0 C43.9,295.3 44.8,291.1 46.4,289.0 C48.0,286.9 50.7,285.1 52.2,285.2Z" fill="none" stroke="#f9d2b9" stroke-width="4" stroke-linejoin="round" clip-path="url(#cc7)" opacity="0.8"/><path d="M52.2,285.2 C53.7,285.3 54.9,286.9 55.5,289.5 C56.1,292.1 56.1,296.3 56.1,300.7 C56.1,305.1 56.0,310.8 55.5,316.0 C55.0,321.2 54.3,328.0 53.3,332.2 C52.3,336.4 51.1,337.0 49.3,341.2 C47.5,345.4 43.8,352.9 42.3,357.3 C40.8,361.7 40.9,365.4 40.0,367.7 C39.1,370.0 38.4,371.0 37.0,371.0 C35.6,371.0 33.0,371.0 31.9,367.7 C30.8,364.4 30.4,355.7 30.3,351.1 C30.2,346.5 30.7,344.6 31.1,340.0 C31.5,335.4 31.6,329.1 32.8,323.3 C34.0,317.5 36.9,309.2 38.5,305.0 C40.1,300.8 41.3,300.7 42.6,298.0 C43.9,295.3 44.8,291.1 46.4,289.0 C48.0,286.9 50.7,285.1 52.2,285.2Z" fill="none" stroke="#d57e48" stroke-width="1.7" stroke-linejoin="round"/>
<path d="M47.7,288.5 C47.3,287.5 46.6,284.1 45.1,282.6 C43.6,281.1 40.9,280.4 38.7,279.4 C36.6,278.4 34.7,278.0 32.2,276.8 C29.7,275.6 25.2,273.1 23.8,272.3" fill="none" stroke="#f8c6a4" stroke-width="1.7" stroke-linecap="round" stroke-linejoin="round"/>
<path d="M37.4,278.8 C37.2,277.8 36.7,274.8 36.5,273.0 C36.3,271.2 36.2,268.7 36.1,267.8" fill="none" stroke="#f8c6a4" stroke-width="1.7" stroke-linecap="round" stroke-linejoin="round"/>
<path d="M53.5,287.0 C54.5,285.8 57.2,282.2 59.3,280.0 C61.3,277.8 63.4,275.1 65.8,273.6 C68.2,272.1 70.9,271.2 73.5,271.0 C76.1,270.8 79.3,272.3 81.2,272.3 C83.1,272.3 84.2,271.6 85.1,271.0 C86.0,270.4 86.2,268.8 86.4,268.4" fill="none" stroke="#f8c6a4" stroke-width="1.7" stroke-linecap="round" stroke-linejoin="round"/>
<path d="M78.7,271.7 C78.9,271.1 79.8,268.4 80.0,267.8" fill="none" stroke="#f8c6a4" stroke-width="1.7" stroke-linecap="round" stroke-linejoin="round"/>
<path d="M38.0,308.0 C36.8,306.8 33.1,302.8 30.9,300.7 C28.6,298.6 25.6,296.4 24.5,295.5" fill="none" stroke="#f8c6a4" stroke-width="1.7" stroke-linecap="round" stroke-linejoin="round"/>
<path d="M32.2,302.5 C30.3,302.8 23.8,303.3 20.6,304.5 C17.4,305.7 15.7,308.5 12.9,309.7 C10.1,310.9 5.4,311.3 3.9,311.6" fill="none" stroke="#f8c6a4" stroke-width="1.7" stroke-linecap="round" stroke-linejoin="round"/>
<path d="M7.0,310.5 C6.7,309.4 5.5,305.0 5.2,303.9" fill="none" stroke="#f8c6a4" stroke-width="1.7" stroke-linecap="round" stroke-linejoin="round"/>
<path d="M54.4,331.7 C55.7,331.6 60.2,331.5 62.2,331.1 C64.2,330.7 65.4,330.5 66.7,329.4 C68.0,328.3 68.9,326.1 70.0,324.4 C71.1,322.6 72.0,320.2 73.3,318.9 C74.6,317.6 77.0,317.1 77.8,316.7" fill="none" stroke="#f8c6a4" stroke-width="1.7" stroke-linecap="round" stroke-linejoin="round"/>
<path d="M72.2,321.1 C73.1,321.5 76.3,322.3 77.8,323.3 C79.3,324.3 80.5,326.6 81.1,327.2" fill="none" stroke="#f8c6a4" stroke-width="1.7" stroke-linecap="round" stroke-linejoin="round"/>
<path d="M66.7,331.0 C67.8,331.6 71.1,333.1 73.3,334.4 C75.5,335.7 78.2,338.1 80.0,338.9 C81.8,339.6 82.8,339.7 84.4,338.9 C86.0,338.1 88.6,334.7 89.4,333.9" fill="none" stroke="#f8c6a4" stroke-width="1.7" stroke-linecap="round" stroke-linejoin="round"/>
<path d="M31.0,342.5 C29.7,342.6 25.4,343.6 23.3,343.3 C21.2,343.1 19.5,341.4 18.7,341.0" fill="none" stroke="#f8c6a4" stroke-width="1.7" stroke-linecap="round" stroke-linejoin="round"/>
<path d="M31.9,365.1 C30.5,364.6 25.8,363.0 23.3,362.0 C20.8,361.0 19.2,358.6 17.1,358.9 C15.0,359.1 12.2,361.7 10.9,363.5 C9.6,365.3 9.4,367.2 9.3,369.8 C9.2,372.4 10.0,377.6 10.1,379.1" fill="none" stroke="#f8c6a4" stroke-width="1.7" stroke-linecap="round" stroke-linejoin="round"/>
<path d="M10.9,365.0 C9.9,365.5 6.1,366.6 4.7,368.2 C3.3,369.8 2.7,373.4 2.3,374.4" fill="none" stroke="#f8c6a4" stroke-width="1.7" stroke-linecap="round" stroke-linejoin="round"/>
<path d="M37.1,369.5 C37.2,370.8 36.8,374.8 37.7,377.0 C38.6,379.2 40.6,381.8 42.3,382.8 C44.0,383.8 46.4,383.3 48.1,382.8 C49.8,382.3 51.4,380.9 52.7,379.9 C54.1,378.9 54.9,378.1 56.2,377.0 C57.6,375.9 59.2,374.1 60.8,373.5 C62.3,372.9 64.2,373.1 65.5,373.5 C66.8,373.9 67.9,375.4 68.4,375.8" fill="none" stroke="#f8c6a4" stroke-width="1.7" stroke-linecap="round" stroke-linejoin="round"/>
<path d="M51.6,380.0 C51.8,378.7 51.9,374.1 52.5,372.0 C53.1,369.9 53.8,368.6 55.1,367.7 C56.4,366.8 59.4,366.8 60.3,366.6" fill="none" stroke="#f8c6a4" stroke-width="1.7" stroke-linecap="round" stroke-linejoin="round"/>
<path d="M60.8,374.0 C61.0,374.5 61.8,376.5 62.0,377.0" fill="none" stroke="#f8c6a4" stroke-width="1.7" stroke-linecap="round" stroke-linejoin="round"/>
<ellipse cx="41.0" cy="319.6" rx="6.9" ry="14.3" transform="rotate(14.0 41.0 319.6)" fill="#f9cfb4"/><ellipse cx="41.0" cy="319.6" rx="5.6" ry="13.0" transform="rotate(14.0 41.0 319.6)" fill="#d9836d" stroke="#c86f5b" stroke-width="0.9"/>
<ellipse cx="148.4" cy="330.4" rx="1.2" ry="1.0" transform="rotate(166 148.4 330.4)" fill="#fad2b8" stroke="#cf8d6c" stroke-width="0.7"/>
<ellipse cx="127.1" cy="340.2" rx="1.0" ry="1.3" transform="rotate(24 127.1 340.2)" fill="#fad2b8" stroke="#cf8d6c" stroke-width="0.7"/>
<ellipse cx="122.7" cy="347.3" rx="1.3" ry="0.9" transform="rotate(129 122.7 347.3)" fill="#fad2b8" stroke="#cf8d6c" stroke-width="0.7"/>
<ellipse cx="150.2" cy="347.3" rx="1.2" ry="0.9" transform="rotate(107 150.2 347.3)" fill="#fad2b8" stroke="#cf8d6c" stroke-width="0.7"/>
<ellipse cx="152.0" cy="352.6" rx="1.0" ry="0.9" transform="rotate(108 152.0 352.6)" fill="#fad2b8" stroke="#cf8d6c" stroke-width="0.7"/>
<ellipse cx="135.1" cy="371.3" rx="1.0" ry="1.2" transform="rotate(57 135.1 371.3)" fill="#fad2b8" stroke="#cf8d6c" stroke-width="0.7"/>
<ellipse cx="139.5" cy="371.3" rx="1.4" ry="1.2" transform="rotate(15 139.5 371.3)" fill="#fad2b8" stroke="#cf8d6c" stroke-width="0.7"/>
<ellipse cx="136.9" cy="376.6" rx="1.4" ry="1.1" transform="rotate(56 136.9 376.6)" fill="#fad2b8" stroke="#cf8d6c" stroke-width="0.7"/>
<ellipse cx="127.1" cy="378.4" rx="1.0" ry="1.3" transform="rotate(74 127.1 378.4)" fill="#fad2b8" stroke="#cf8d6c" stroke-width="0.7"/>
<ellipse cx="166.2" cy="326.4" rx="1.3" ry="1.2" transform="rotate(146 166.2 326.4)" fill="#fad2b8" stroke="#cf8d6c" stroke-width="0.7"/>
<ellipse cx="187.8" cy="332.0" rx="1.2" ry="1.3" transform="rotate(46 187.8 332.0)" fill="#fad2b8" stroke="#cf8d6c" stroke-width="0.7"/>
<ellipse cx="188.8" cy="334.9" rx="1.1" ry="1.2" transform="rotate(48 188.8 334.9)" fill="#fad2b8" stroke="#cf8d6c" stroke-width="0.7"/>
<ellipse cx="165.2" cy="356.6" rx="1.3" ry="1.2" transform="rotate(16 165.2 356.6)" fill="#fad2b8" stroke="#cf8d6c" stroke-width="0.7"/>
<ellipse cx="167.1" cy="360.4" rx="1.4" ry="1.2" transform="rotate(127 167.1 360.4)" fill="#fad2b8" stroke="#cf8d6c" stroke-width="0.7"/>
<ellipse cx="193.5" cy="354.7" rx="1.5" ry="1.1" transform="rotate(80 193.5 354.7)" fill="#fad2b8" stroke="#cf8d6c" stroke-width="0.7"/>
<ellipse cx="180.3" cy="370.8" rx="1.3" ry="1.4" transform="rotate(92 180.3 370.8)" fill="#fad2b8" stroke="#cf8d6c" stroke-width="0.7"/>
<ellipse cx="184.0" cy="371.7" rx="1.2" ry="1.3" transform="rotate(178 184.0 371.7)" fill="#fad2b8" stroke="#cf8d6c" stroke-width="0.7"/>
<ellipse cx="234.8" cy="323.5" rx="1.5" ry="0.9" transform="rotate(76 234.8 323.5)" fill="#fad2b8" stroke="#cf8d6c" stroke-width="0.7"/>
<ellipse cx="205.2" cy="338.8" rx="1.4" ry="1.3" transform="rotate(114 205.2 338.8)" fill="#fad2b8" stroke="#cf8d6c" stroke-width="0.7"/>
<ellipse cx="208.0" cy="337.9" rx="1.2" ry="1.4" transform="rotate(30 208.0 337.9)" fill="#fad2b8" stroke="#cf8d6c" stroke-width="0.7"/>
<ellipse cx="240.6" cy="349.4" rx="1.4" ry="1.0" transform="rotate(87 240.6 349.4)" fill="#fad2b8" stroke="#cf8d6c" stroke-width="0.7"/>
<ellipse cx="244.4" cy="348.4" rx="1.1" ry="1.1" transform="rotate(10 244.4 348.4)" fill="#fad2b8" stroke="#cf8d6c" stroke-width="0.7"/>
<ellipse cx="212.9" cy="360.8" rx="1.7" ry="0.9" transform="rotate(142 212.9 360.8)" fill="#fad2b8" stroke="#cf8d6c" stroke-width="0.7"/>
<ellipse cx="228.2" cy="368.5" rx="1.4" ry="1.3" transform="rotate(80 228.2 368.5)" fill="#fad2b8" stroke="#cf8d6c" stroke-width="0.7"/>
<ellipse cx="223.4" cy="367.5" rx="1.2" ry="1.1" transform="rotate(127 223.4 367.5)" fill="#fad2b8" stroke="#cf8d6c" stroke-width="0.7"/>
<ellipse cx="233.0" cy="352.0" rx="1.4" ry="1.1" transform="rotate(23 233.0 352.0)" fill="#fad2b8" stroke="#cf8d6c" stroke-width="0.7"/>
<ellipse cx="282.4" cy="302.5" rx="1.7" ry="1.1" transform="rotate(170 282.4 302.5)" fill="#fad2b8" stroke="#cf8d6c" stroke-width="0.7"/>
<ellipse cx="281.5" cy="307.9" rx="1.0" ry="1.3" transform="rotate(79 281.5 307.9)" fill="#fad2b8" stroke="#cf8d6c" stroke-width="0.7"/>
<ellipse cx="252.2" cy="323.0" rx="1.5" ry="1.4" transform="rotate(114 252.2 323.0)" fill="#fad2b8" stroke="#cf8d6c" stroke-width="0.7"/>
<ellipse cx="282.4" cy="327.4" rx="1.2" ry="1.1" transform="rotate(171 282.4 327.4)" fill="#fad2b8" stroke="#cf8d6c" stroke-width="0.7"/>
<ellipse cx="280.6" cy="332.7" rx="1.2" ry="1.4" transform="rotate(90 280.6 332.7)" fill="#fad2b8" stroke="#cf8d6c" stroke-width="0.7"/>
<ellipse cx="270.9" cy="344.3" rx="1.1" ry="1.0" transform="rotate(15 270.9 344.3)" fill="#fad2b8" stroke="#cf8d6c" stroke-width="0.7"/>
<ellipse cx="258.4" cy="349.6" rx="1.2" ry="1.0" transform="rotate(63 258.4 349.6)" fill="#fad2b8" stroke="#cf8d6c" stroke-width="0.7"/>
<ellipse cx="263.8" cy="348.7" rx="1.3" ry="1.4" transform="rotate(127 263.8 348.7)" fill="#fad2b8" stroke="#cf8d6c" stroke-width="0.7"/>
<ellipse cx="435.5" cy="321.7" rx="1.1" ry="1.1" transform="rotate(140 435.5 321.7)" fill="#fad2b8" stroke="#cf8d6c" stroke-width="0.7"/>
<ellipse cx="452.0" cy="332.0" rx="1.2" ry="1.0" transform="rotate(110 452.0 332.0)" fill="#fad2b8" stroke="#cf8d6c" stroke-width="0.7"/>
<ellipse cx="431.2" cy="344.2" rx="1.6" ry="1.0" transform="rotate(106 431.2 344.2)" fill="#fad2b8" stroke="#cf8d6c" stroke-width="0.7"/>
<ellipse cx="440.7" cy="347.7" rx="1.7" ry="1.2" transform="rotate(97 440.7 347.7)" fill="#fad2b8" stroke="#cf8d6c" stroke-width="0.7"/>
<ellipse cx="422.5" cy="353.7" rx="1.7" ry="1.0" transform="rotate(45 422.5 353.7)" fill="#fad2b8" stroke="#cf8d6c" stroke-width="0.7"/>
<ellipse cx="434.7" cy="356.3" rx="1.1" ry="1.2" transform="rotate(3 434.7 356.3)" fill="#fad2b8" stroke="#cf8d6c" stroke-width="0.7"/>
<ellipse cx="426.0" cy="359.8" rx="1.3" ry="1.2" transform="rotate(67 426.0 359.8)" fill="#fad2b8" stroke="#cf8d6c" stroke-width="0.7"/>
<ellipse cx="421.7" cy="365.9" rx="1.2" ry="1.0" transform="rotate(136 421.7 365.9)" fill="#fad2b8" stroke="#cf8d6c" stroke-width="0.7"/>
<ellipse cx="410.4" cy="371.0" rx="1.3" ry="1.2" transform="rotate(32 410.4 371.0)" fill="#fad2b8" stroke="#cf8d6c" stroke-width="0.7"/>
<ellipse cx="373.9" cy="346.9" rx="1.5" ry="1.2" transform="rotate(158 373.9 346.9)" fill="#fad2b8" stroke="#cf8d6c" stroke-width="0.7"/>
<ellipse cx="361.4" cy="356.2" rx="1.5" ry="1.3" transform="rotate(116 361.4 356.2)" fill="#fad2b8" stroke="#cf8d6c" stroke-width="0.7"/>
<ellipse cx="379.5" cy="356.9" rx="1.6" ry="1.3" transform="rotate(174 379.5 356.9)" fill="#fad2b8" stroke="#cf8d6c" stroke-width="0.7"/>
<ellipse cx="373.9" cy="364.3" rx="1.6" ry="1.1" transform="rotate(102 373.9 364.3)" fill="#fad2b8" stroke="#cf8d6c" stroke-width="0.7"/>
<ellipse cx="394.4" cy="366.2" rx="1.3" ry="1.1" transform="rotate(102 394.4 366.2)" fill="#fad2b8" stroke="#cf8d6c" stroke-width="0.7"/>
<ellipse cx="548.0" cy="292.2" rx="1.0" ry="0.9" transform="rotate(53 548.0 292.2)" fill="#fad2b8" stroke="#cf8d6c" stroke-width="0.7"/>
<ellipse cx="554.3" cy="286.9" rx="1.3" ry="1.0" transform="rotate(153 554.3 286.9)" fill="#fad2b8" stroke="#cf8d6c" stroke-width="0.7"/>
<ellipse cx="574.4" cy="285.8" rx="1.0" ry="0.9" transform="rotate(38 574.4 285.8)" fill="#fad2b8" stroke="#cf8d6c" stroke-width="0.7"/>
<ellipse cx="575.5" cy="299.6" rx="1.4" ry="1.4" transform="rotate(157 575.5 299.6)" fill="#fad2b8" stroke="#cf8d6c" stroke-width="0.7"/>
<ellipse cx="579.7" cy="303.8" rx="1.0" ry="1.3" transform="rotate(157 579.7 303.8)" fill="#fad2b8" stroke="#cf8d6c" stroke-width="0.7"/>
<ellipse cx="560.7" cy="308.0" rx="1.3" ry="1.2" transform="rotate(88 560.7 308.0)" fill="#fad2b8" stroke="#cf8d6c" stroke-width="0.7"/>
<ellipse cx="539.6" cy="314.3" rx="1.4" ry="1.1" transform="rotate(29 539.6 314.3)" fill="#fad2b8" stroke="#cf8d6c" stroke-width="0.7"/>
<ellipse cx="552.2" cy="315.4" rx="1.6" ry="1.4" transform="rotate(119 552.2 315.4)" fill="#fad2b8" stroke="#cf8d6c" stroke-width="0.7"/>
<ellipse cx="583.9" cy="312.2" rx="1.3" ry="1.1" transform="rotate(36 583.9 312.2)" fill="#fad2b8" stroke="#cf8d6c" stroke-width="0.7"/>
<ellipse cx="600.8" cy="314.3" rx="1.1" ry="1.1" transform="rotate(67 600.8 314.3)" fill="#fad2b8" stroke="#cf8d6c" stroke-width="0.7"/>
<ellipse cx="605.0" cy="320.7" rx="1.3" ry="1.2" transform="rotate(132 605.0 320.7)" fill="#fad2b8" stroke="#cf8d6c" stroke-width="0.7"/>
<ellipse cx="588.1" cy="335.5" rx="1.0" ry="1.4" transform="rotate(135 588.1 335.5)" fill="#fad2b8" stroke="#cf8d6c" stroke-width="0.7"/>
<ellipse cx="593.4" cy="347.0" rx="1.3" ry="1.2" transform="rotate(6 593.4 347.0)" fill="#fad2b8" stroke="#cf8d6c" stroke-width="0.7"/>
<ellipse cx="582.8" cy="318.6" rx="1.5" ry="1.0" transform="rotate(164 582.8 318.6)" fill="#fad2b8" stroke="#cf8d6c" stroke-width="0.7"/>
<ellipse cx="600.8" cy="301.7" rx="1.6" ry="1.2" transform="rotate(66 600.8 301.7)" fill="#fad2b8" stroke="#cf8d6c" stroke-width="0.7"/>
<ellipse cx="48.0" cy="296.0" rx="1.4" ry="1.4" transform="rotate(91 48.0 296.0)" fill="#fad2b8" stroke="#cf8d6c" stroke-width="0.7"/>
<ellipse cx="50.5" cy="305.0" rx="1.5" ry="1.2" transform="rotate(128 50.5 305.0)" fill="#fad2b8" stroke="#cf8d6c" stroke-width="0.7"/>
<ellipse cx="37.0" cy="345.0" rx="1.2" ry="1.0" transform="rotate(49 37.0 345.0)" fill="#fad2b8" stroke="#cf8d6c" stroke-width="0.7"/>
<ellipse cx="40.0" cy="350.0" rx="1.6" ry="1.3" transform="rotate(58 40.0 350.0)" fill="#fad2b8" stroke="#cf8d6c" stroke-width="0.7"/>
<ellipse cx="42.0" cy="340.0" rx="1.1" ry="1.1" transform="rotate(7 42.0 340.0)" fill="#fad2b8" stroke="#cf8d6c" stroke-width="0.7"/>
<text x="1.6" y="406.5" font-family="Liberation Sans, sans-serif" font-size="16.7" font-weight="bold" fill="#111">Osteocyte</text>
<text x="1.6" y="426.3" font-family="Liberation Sans, sans-serif" font-size="16.7"  fill="#111">(maintains</text>
<text x="1.6" y="446.0" font-family="Liberation Sans, sans-serif" font-size="16.7"  fill="#111">bone tissue)</text>
<text x="130.6" y="406.5" font-family="Liberation Sans, sans-serif" font-size="16.7" font-weight="bold" fill="#111">Osteoblast</text>
<text x="130.6" y="426.3" font-family="Liberation Sans, sans-serif" font-size="16.7"  fill="#111">(forms bone matrix)</text>
<text x="330.6" y="406.5" font-family="Liberation Sans, sans-serif" font-size="16.7" font-weight="bold" fill="#111">Osteogenic cell</text>
<text x="330.6" y="426.3" font-family="Liberation Sans, sans-serif" font-size="16.7"  fill="#111">(stem cell)</text>
<text x="513.6" y="406.5" font-family="Liberation Sans, sans-serif" font-size="16.7" font-weight="bold" fill="#111">Osteoclast</text>
<text x="513.6" y="426.3" font-family="Liberation Sans, sans-serif" font-size="16.7"  fill="#111">(resorbs bone)</text>
</svg>
</body></html>
